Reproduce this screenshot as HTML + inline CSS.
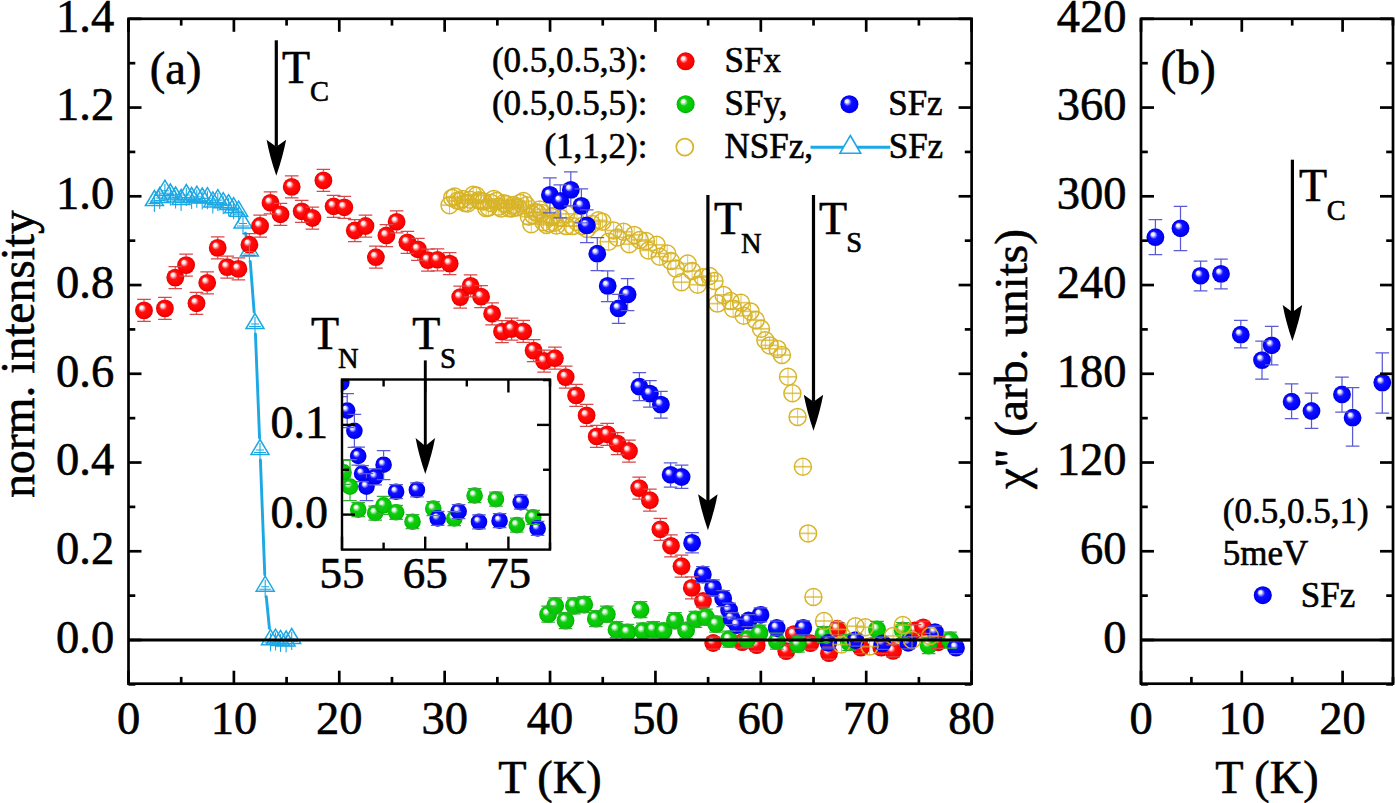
<!DOCTYPE html>
<html><head><meta charset="utf-8"><style>
html,body{margin:0;padding:0;background:#fff;}
svg{display:block;}
text{font-family:"Liberation Serif", serif;stroke:#000;stroke-width:0.6px;}
</style></head><body>
<svg width="1395" height="803" viewBox="0 0 1395 803" font-family='"Liberation Serif", serif' fill="#000">
<defs>
<radialGradient id="gr" cx="0.5" cy="0.5" r="0.5" fx="0.33" fy="0.3">
<stop offset="0" stop-color="#fff4f4"/>
<stop offset="0.16" stop-color="#fff4f4" stop-opacity="1"/>
<stop offset="0.44" stop-color="#ff1010"/>
<stop offset="0.85" stop-color="#ff0000"/>
<stop offset="1" stop-color="#d40000"/>
</radialGradient><radialGradient id="gg" cx="0.5" cy="0.5" r="0.5" fx="0.33" fy="0.3">
<stop offset="0" stop-color="#f4fff4"/>
<stop offset="0.16" stop-color="#f4fff4" stop-opacity="1"/>
<stop offset="0.44" stop-color="#10cc10"/>
<stop offset="0.85" stop-color="#00c800"/>
<stop offset="1" stop-color="#00a800"/>
</radialGradient><radialGradient id="gb" cx="0.5" cy="0.5" r="0.5" fx="0.33" fy="0.3">
<stop offset="0" stop-color="#f4f4ff"/>
<stop offset="0.16" stop-color="#f4f4ff" stop-opacity="1"/>
<stop offset="0.44" stop-color="#1010ff"/>
<stop offset="0.85" stop-color="#0000ff"/>
<stop offset="1" stop-color="#0000c8"/>
</radialGradient>
<clipPath id="clipI"><rect x="342.0" y="379.5" width="208.0" height="170.10000000000002"/></clipPath>
</defs>
<rect width="1395" height="803" fill="#fff"/>
<g>
<line x1="245.45" y1="233.22" x2="246.95" y2="239.78" stroke="#1ca8e4" stroke-width="2.9" stroke-linecap="round"/>
<line x1="250.25" y1="261.47" x2="254.15" y2="312.03" stroke="#1ca8e4" stroke-width="2.9" stroke-linecap="round"/>
<line x1="255.44" y1="333.99" x2="259.56" y2="438.01" stroke="#1ca8e4" stroke-width="2.9" stroke-linecap="round"/>
<line x1="260.42" y1="459.99" x2="264.78" y2="574.71" stroke="#1ca8e4" stroke-width="2.9" stroke-linecap="round"/>
<line x1="266.28" y1="596.65" x2="269.42" y2="628.25" stroke="#1ca8e4" stroke-width="2.9" stroke-linecap="round"/>
<path d="M154.4 190.5L163.4 205.5L145.4 205.5Z" fill="none" stroke="#1ca8e4" stroke-width="1.5" stroke-linejoin="miter"/>
<path d="M159.7 187.5L168.7 202.5L150.7 202.5Z" fill="none" stroke="#1ca8e4" stroke-width="1.5" stroke-linejoin="miter"/>
<path d="M164.9 180.2L173.9 195.2L155.9 195.2Z" fill="none" stroke="#1ca8e4" stroke-width="1.5" stroke-linejoin="miter"/>
<path d="M170.4 184.0L179.4 199.0L161.4 199.0Z" fill="none" stroke="#1ca8e4" stroke-width="1.5" stroke-linejoin="miter"/>
<path d="M175.6 187.0L184.6 202.0L166.6 202.0Z" fill="none" stroke="#1ca8e4" stroke-width="1.5" stroke-linejoin="miter"/>
<path d="M181.1 189.5L190.1 204.5L172.1 204.5Z" fill="none" stroke="#1ca8e4" stroke-width="1.5" stroke-linejoin="miter"/>
<path d="M186.3 184.5L195.3 199.5L177.3 199.5Z" fill="none" stroke="#1ca8e4" stroke-width="1.5" stroke-linejoin="miter"/>
<path d="M191.6 187.5L200.6 202.5L182.6 202.5Z" fill="none" stroke="#1ca8e4" stroke-width="1.5" stroke-linejoin="miter"/>
<path d="M196.8 186.2L205.8 201.2L187.8 201.2Z" fill="none" stroke="#1ca8e4" stroke-width="1.5" stroke-linejoin="miter"/>
<path d="M202.2 188.0L211.2 203.0L193.2 203.0Z" fill="none" stroke="#1ca8e4" stroke-width="1.5" stroke-linejoin="miter"/>
<path d="M207.4 187.7L216.4 202.7L198.4 202.7Z" fill="none" stroke="#1ca8e4" stroke-width="1.5" stroke-linejoin="miter"/>
<path d="M212.8 191.9L221.8 206.9L203.8 206.9Z" fill="none" stroke="#1ca8e4" stroke-width="1.5" stroke-linejoin="miter"/>
<path d="M217.8 189.6L226.8 204.6L208.8 204.6Z" fill="none" stroke="#1ca8e4" stroke-width="1.5" stroke-linejoin="miter"/>
<path d="M223.2 192.7L232.2 207.7L214.2 207.7Z" fill="none" stroke="#1ca8e4" stroke-width="1.5" stroke-linejoin="miter"/>
<path d="M228.6 194.6L237.6 209.6L219.6 209.6Z" fill="none" stroke="#1ca8e4" stroke-width="1.5" stroke-linejoin="miter"/>
<path d="M233.6 197.7L242.6 212.7L224.6 212.7Z" fill="none" stroke="#1ca8e4" stroke-width="1.5" stroke-linejoin="miter"/>
<path d="M238.6 201.2L247.6 216.2L229.6 216.2Z" fill="none" stroke="#1ca8e4" stroke-width="1.5" stroke-linejoin="miter"/>
<path d="M243.0 213.0L252.0 228.0L234.0 228.0Z" fill="none" stroke="#1ca8e4" stroke-width="1.5" stroke-linejoin="miter"/>
<path d="M249.4 241.0L258.4 256.0L240.4 256.0Z" fill="none" stroke="#1ca8e4" stroke-width="1.5" stroke-linejoin="miter"/>
<path d="M255.0 313.5L264.0 328.5L246.0 328.5Z" fill="none" stroke="#1ca8e4" stroke-width="1.5" stroke-linejoin="miter"/>
<path d="M260.0 439.5L269.0 454.5L251.0 454.5Z" fill="none" stroke="#1ca8e4" stroke-width="1.5" stroke-linejoin="miter"/>
<path d="M265.2 576.2L274.2 591.2L256.2 591.2Z" fill="none" stroke="#1ca8e4" stroke-width="1.5" stroke-linejoin="miter"/>
<path d="M270.5 629.7L279.5 644.7L261.5 644.7Z" fill="none" stroke="#1ca8e4" stroke-width="1.5" stroke-linejoin="miter"/>
<path d="M275.5 629.1L284.5 644.1L266.5 644.1Z" fill="none" stroke="#1ca8e4" stroke-width="1.5" stroke-linejoin="miter"/>
<path d="M280.5 630.4L289.5 645.4L271.5 645.4Z" fill="none" stroke="#1ca8e4" stroke-width="1.5" stroke-linejoin="miter"/>
<path d="M286.1 631.0L295.1 646.0L277.1 646.0Z" fill="none" stroke="#1ca8e4" stroke-width="1.5" stroke-linejoin="miter"/>
<path d="M291.7 628.5L300.7 643.5L282.7 643.5Z" fill="none" stroke="#1ca8e4" stroke-width="1.5" stroke-linejoin="miter"/>
<circle cx="144.0" cy="310.4" r="8.9" fill="url(#gr)"/>
<circle cx="164.9" cy="308.4" r="8.9" fill="url(#gr)"/>
<circle cx="175.3" cy="277.6" r="8.9" fill="url(#gr)"/>
<circle cx="186.1" cy="265.1" r="8.9" fill="url(#gr)"/>
<circle cx="196.5" cy="303.3" r="8.9" fill="url(#gr)"/>
<circle cx="207.2" cy="282.8" r="8.9" fill="url(#gr)"/>
<circle cx="217.7" cy="247.9" r="8.9" fill="url(#gr)"/>
<circle cx="227.2" cy="267.1" r="8.9" fill="url(#gr)"/>
<circle cx="238.4" cy="268.9" r="8.9" fill="url(#gr)"/>
<circle cx="249.4" cy="244.7" r="8.9" fill="url(#gr)"/>
<circle cx="260.1" cy="226.0" r="8.9" fill="url(#gr)"/>
<circle cx="270.5" cy="202.8" r="8.9" fill="url(#gr)"/>
<circle cx="280.5" cy="214.3" r="8.9" fill="url(#gr)"/>
<circle cx="291.7" cy="186.9" r="8.9" fill="url(#gr)"/>
<circle cx="301.7" cy="211.3" r="8.9" fill="url(#gr)"/>
<circle cx="312.4" cy="218.0" r="8.9" fill="url(#gr)"/>
<circle cx="323.4" cy="180.4" r="8.9" fill="url(#gr)"/>
<circle cx="333.6" cy="206.3" r="8.9" fill="url(#gr)"/>
<circle cx="344.3" cy="207.3" r="8.9" fill="url(#gr)"/>
<circle cx="354.8" cy="230.5" r="8.9" fill="url(#gr)"/>
<circle cx="365.5" cy="226.0" r="8.9" fill="url(#gr)"/>
<circle cx="375.9" cy="257.2" r="8.9" fill="url(#gr)"/>
<circle cx="386.4" cy="235.5" r="8.9" fill="url(#gr)"/>
<circle cx="396.6" cy="221.8" r="8.9" fill="url(#gr)"/>
<circle cx="407.4" cy="242.3" r="8.9" fill="url(#gr)"/>
<circle cx="417.9" cy="249.3" r="8.9" fill="url(#gr)"/>
<circle cx="427.9" cy="260.1" r="8.9" fill="url(#gr)"/>
<circle cx="437.5" cy="259.8" r="8.9" fill="url(#gr)"/>
<circle cx="449.7" cy="263.6" r="8.9" fill="url(#gr)"/>
<circle cx="460.2" cy="297.1" r="8.9" fill="url(#gr)"/>
<circle cx="470.6" cy="285.9" r="8.9" fill="url(#gr)"/>
<circle cx="481.1" cy="296.7" r="8.9" fill="url(#gr)"/>
<circle cx="492.1" cy="313.8" r="8.9" fill="url(#gr)"/>
<circle cx="502.0" cy="331.6" r="8.9" fill="url(#gr)"/>
<circle cx="511.6" cy="329.0" r="8.9" fill="url(#gr)"/>
<circle cx="523.2" cy="331.4" r="8.9" fill="url(#gr)"/>
<circle cx="533.6" cy="350.6" r="8.9" fill="url(#gr)"/>
<circle cx="544.1" cy="361.0" r="8.9" fill="url(#gr)"/>
<circle cx="554.9" cy="358.2" r="8.9" fill="url(#gr)"/>
<circle cx="565.7" cy="377.1" r="8.9" fill="url(#gr)"/>
<circle cx="576.1" cy="395.4" r="8.9" fill="url(#gr)"/>
<circle cx="586.6" cy="415.4" r="8.9" fill="url(#gr)"/>
<circle cx="596.7" cy="436.4" r="8.9" fill="url(#gr)"/>
<circle cx="607.2" cy="434.3" r="8.9" fill="url(#gr)"/>
<circle cx="617.6" cy="443.7" r="8.9" fill="url(#gr)"/>
<circle cx="629.0" cy="451.0" r="8.9" fill="url(#gr)"/>
<circle cx="639.2" cy="488.1" r="8.9" fill="url(#gr)"/>
<circle cx="649.9" cy="500.2" r="8.9" fill="url(#gr)"/>
<circle cx="660.4" cy="529.3" r="8.9" fill="url(#gr)"/>
<circle cx="671.0" cy="545.8" r="8.9" fill="url(#gr)"/>
<circle cx="681.5" cy="566.2" r="8.9" fill="url(#gr)"/>
<circle cx="691.8" cy="587.9" r="8.9" fill="url(#gr)"/>
<circle cx="703.0" cy="601.0" r="8.9" fill="url(#gr)"/>
<circle cx="713.2" cy="643.0" r="8.9" fill="url(#gr)"/>
<circle cx="742.2" cy="642.2" r="8.9" fill="url(#gr)"/>
<circle cx="756.7" cy="645.2" r="8.9" fill="url(#gr)"/>
<circle cx="786.3" cy="651.2" r="8.9" fill="url(#gr)"/>
<circle cx="793.8" cy="634.1" r="8.9" fill="url(#gr)"/>
<circle cx="810.4" cy="643.2" r="8.9" fill="url(#gr)"/>
<circle cx="829.0" cy="653.2" r="8.9" fill="url(#gr)"/>
<circle cx="837.5" cy="628.7" r="8.9" fill="url(#gr)"/>
<circle cx="860.9" cy="647.7" r="8.9" fill="url(#gr)"/>
<circle cx="881.3" cy="647.7" r="8.9" fill="url(#gr)"/>
<circle cx="893.1" cy="650.9" r="8.9" fill="url(#gr)"/>
<circle cx="914.6" cy="630.5" r="8.9" fill="url(#gr)"/>
<circle cx="923.2" cy="627.3" r="8.9" fill="url(#gr)"/>
<circle cx="938.3" cy="642.3" r="8.9" fill="url(#gr)"/>
<circle cx="548.1" cy="614.2" r="8.9" fill="url(#gg)"/>
<circle cx="555.2" cy="605.8" r="8.9" fill="url(#gg)"/>
<circle cx="565.5" cy="620.6" r="8.9" fill="url(#gg)"/>
<circle cx="573.9" cy="605.8" r="8.9" fill="url(#gg)"/>
<circle cx="584.2" cy="604.5" r="8.9" fill="url(#gg)"/>
<circle cx="595.8" cy="618.7" r="8.9" fill="url(#gg)"/>
<circle cx="606.8" cy="614.2" r="8.9" fill="url(#gg)"/>
<circle cx="616.5" cy="629.7" r="8.9" fill="url(#gg)"/>
<circle cx="627.4" cy="632.3" r="8.9" fill="url(#gg)"/>
<circle cx="640.5" cy="609.7" r="8.9" fill="url(#gg)"/>
<circle cx="642.9" cy="631.0" r="8.9" fill="url(#gg)"/>
<circle cx="653.2" cy="629.7" r="8.9" fill="url(#gg)"/>
<circle cx="663.5" cy="631.0" r="8.9" fill="url(#gg)"/>
<circle cx="675.0" cy="620.6" r="8.9" fill="url(#gg)"/>
<circle cx="686.1" cy="630.3" r="8.9" fill="url(#gg)"/>
<circle cx="695.4" cy="619.4" r="8.9" fill="url(#gg)"/>
<circle cx="706.0" cy="617.2" r="8.9" fill="url(#gg)"/>
<circle cx="716.1" cy="624.1" r="8.9" fill="url(#gg)"/>
<circle cx="729.1" cy="639.2" r="8.9" fill="url(#gg)"/>
<circle cx="747.2" cy="639.2" r="8.9" fill="url(#gg)"/>
<circle cx="759.5" cy="633.1" r="8.9" fill="url(#gg)"/>
<circle cx="776.8" cy="641.2" r="8.9" fill="url(#gg)"/>
<circle cx="797.9" cy="644.2" r="8.9" fill="url(#gg)"/>
<circle cx="823.5" cy="634.5" r="8.9" fill="url(#gg)"/>
<circle cx="849.0" cy="642.3" r="8.9" fill="url(#gg)"/>
<circle cx="877.0" cy="629.4" r="8.9" fill="url(#gg)"/>
<circle cx="902.8" cy="630.5" r="8.9" fill="url(#gg)"/>
<circle cx="928.6" cy="645.5" r="8.9" fill="url(#gg)"/>
<circle cx="950.1" cy="640.2" r="8.9" fill="url(#gg)"/>
<circle cx="449.5" cy="205.2" r="8.5" fill="none" stroke="#d8b428" stroke-width="1.5"/>
<circle cx="452.1" cy="197.9" r="8.5" fill="none" stroke="#d8b428" stroke-width="1.5"/>
<circle cx="454.7" cy="196.6" r="8.5" fill="none" stroke="#d8b428" stroke-width="1.5"/>
<circle cx="457.4" cy="200.8" r="8.5" fill="none" stroke="#d8b428" stroke-width="1.5"/>
<circle cx="460.0" cy="201.0" r="8.5" fill="none" stroke="#d8b428" stroke-width="1.5"/>
<circle cx="462.5" cy="199.0" r="8.5" fill="none" stroke="#d8b428" stroke-width="1.5"/>
<circle cx="465.0" cy="203.0" r="8.5" fill="none" stroke="#d8b428" stroke-width="1.5"/>
<circle cx="467.6" cy="203.4" r="8.5" fill="none" stroke="#d8b428" stroke-width="1.5"/>
<circle cx="470.1" cy="199.8" r="8.5" fill="none" stroke="#d8b428" stroke-width="1.5"/>
<circle cx="473.2" cy="194.7" r="8.5" fill="none" stroke="#d8b428" stroke-width="1.5"/>
<circle cx="476.4" cy="195.5" r="8.5" fill="none" stroke="#d8b428" stroke-width="1.5"/>
<circle cx="478.7" cy="200.2" r="8.5" fill="none" stroke="#d8b428" stroke-width="1.5"/>
<circle cx="481.0" cy="201.0" r="8.5" fill="none" stroke="#d8b428" stroke-width="1.5"/>
<circle cx="483.6" cy="201.6" r="8.5" fill="none" stroke="#d8b428" stroke-width="1.5"/>
<circle cx="486.2" cy="208.1" r="8.5" fill="none" stroke="#d8b428" stroke-width="1.5"/>
<circle cx="488.6" cy="207.6" r="8.5" fill="none" stroke="#d8b428" stroke-width="1.5"/>
<circle cx="491.0" cy="203.0" r="8.5" fill="none" stroke="#d8b428" stroke-width="1.5"/>
<circle cx="493.8" cy="198.9" r="8.5" fill="none" stroke="#d8b428" stroke-width="1.5"/>
<circle cx="496.5" cy="200.9" r="8.5" fill="none" stroke="#d8b428" stroke-width="1.5"/>
<circle cx="498.8" cy="206.7" r="8.5" fill="none" stroke="#d8b428" stroke-width="1.5"/>
<circle cx="501.1" cy="208.4" r="8.5" fill="none" stroke="#d8b428" stroke-width="1.5"/>
<circle cx="503.6" cy="203.2" r="8.5" fill="none" stroke="#d8b428" stroke-width="1.5"/>
<circle cx="506.0" cy="204.0" r="8.5" fill="none" stroke="#d8b428" stroke-width="1.5"/>
<circle cx="509.0" cy="208.2" r="8.5" fill="none" stroke="#d8b428" stroke-width="1.5"/>
<circle cx="512.0" cy="208.4" r="8.5" fill="none" stroke="#d8b428" stroke-width="1.5"/>
<circle cx="513.6" cy="204.9" r="8.5" fill="none" stroke="#d8b428" stroke-width="1.5"/>
<circle cx="515.2" cy="207.4" r="8.5" fill="none" stroke="#d8b428" stroke-width="1.5"/>
<circle cx="517.8" cy="207.2" r="8.5" fill="none" stroke="#d8b428" stroke-width="1.5"/>
<circle cx="520.3" cy="202.9" r="8.5" fill="none" stroke="#d8b428" stroke-width="1.5"/>
<circle cx="523.4" cy="201.1" r="8.5" fill="none" stroke="#d8b428" stroke-width="1.5"/>
<circle cx="526.5" cy="205.2" r="8.5" fill="none" stroke="#d8b428" stroke-width="1.5"/>
<circle cx="528.9" cy="216.7" r="8.5" fill="none" stroke="#d8b428" stroke-width="1.5"/>
<circle cx="531.3" cy="224.2" r="8.5" fill="none" stroke="#d8b428" stroke-width="1.5"/>
<circle cx="533.1" cy="215.1" r="8.5" fill="none" stroke="#d8b428" stroke-width="1.5"/>
<circle cx="535.0" cy="212.0" r="8.5" fill="none" stroke="#d8b428" stroke-width="1.5"/>
<circle cx="537.4" cy="212.7" r="8.5" fill="none" stroke="#d8b428" stroke-width="1.5"/>
<circle cx="539.7" cy="209.4" r="8.5" fill="none" stroke="#d8b428" stroke-width="1.5"/>
<circle cx="541.6" cy="212.9" r="8.5" fill="none" stroke="#d8b428" stroke-width="1.5"/>
<circle cx="543.5" cy="222.3" r="8.5" fill="none" stroke="#d8b428" stroke-width="1.5"/>
<circle cx="546.5" cy="224.9" r="8.5" fill="none" stroke="#d8b428" stroke-width="1.5"/>
<circle cx="549.4" cy="223.5" r="8.5" fill="none" stroke="#d8b428" stroke-width="1.5"/>
<circle cx="551.2" cy="216.8" r="8.5" fill="none" stroke="#d8b428" stroke-width="1.5"/>
<circle cx="553.0" cy="216.0" r="8.5" fill="none" stroke="#d8b428" stroke-width="1.5"/>
<circle cx="554.8" cy="222.8" r="8.5" fill="none" stroke="#d8b428" stroke-width="1.5"/>
<circle cx="556.5" cy="225.5" r="8.5" fill="none" stroke="#d8b428" stroke-width="1.5"/>
<circle cx="561.0" cy="218.0" r="8.5" fill="none" stroke="#d8b428" stroke-width="1.5"/>
<circle cx="566.1" cy="213.9" r="8.5" fill="none" stroke="#d8b428" stroke-width="1.5"/>
<circle cx="566.1" cy="226.1" r="8.5" fill="none" stroke="#d8b428" stroke-width="1.5"/>
<circle cx="572.6" cy="226.1" r="8.5" fill="none" stroke="#d8b428" stroke-width="1.5"/>
<circle cx="577.0" cy="222.0" r="8.5" fill="none" stroke="#d8b428" stroke-width="1.5"/>
<circle cx="582.0" cy="226.0" r="8.5" fill="none" stroke="#d8b428" stroke-width="1.5"/>
<circle cx="587.0" cy="229.0" r="8.5" fill="none" stroke="#d8b428" stroke-width="1.5"/>
<circle cx="592.0" cy="224.0" r="8.5" fill="none" stroke="#d8b428" stroke-width="1.5"/>
<circle cx="598.4" cy="220.3" r="8.5" fill="none" stroke="#d8b428" stroke-width="1.5"/>
<circle cx="602.4" cy="221.8" r="8.5" fill="none" stroke="#d8b428" stroke-width="1.5"/>
<circle cx="608.6" cy="241.7" r="8.5" fill="none" stroke="#d8b428" stroke-width="1.5"/>
<circle cx="613.6" cy="230.5" r="8.5" fill="none" stroke="#d8b428" stroke-width="1.5"/>
<circle cx="617.4" cy="237.4" r="8.5" fill="none" stroke="#d8b428" stroke-width="1.5"/>
<circle cx="623.6" cy="231.8" r="8.5" fill="none" stroke="#d8b428" stroke-width="1.5"/>
<circle cx="629.2" cy="244.2" r="8.5" fill="none" stroke="#d8b428" stroke-width="1.5"/>
<circle cx="634.2" cy="234.9" r="8.5" fill="none" stroke="#d8b428" stroke-width="1.5"/>
<circle cx="639.8" cy="239.9" r="8.5" fill="none" stroke="#d8b428" stroke-width="1.5"/>
<circle cx="646.0" cy="241.1" r="8.5" fill="none" stroke="#d8b428" stroke-width="1.5"/>
<circle cx="648.5" cy="250.4" r="8.5" fill="none" stroke="#d8b428" stroke-width="1.5"/>
<circle cx="656.6" cy="244.8" r="8.5" fill="none" stroke="#d8b428" stroke-width="1.5"/>
<circle cx="659.7" cy="256.7" r="8.5" fill="none" stroke="#d8b428" stroke-width="1.5"/>
<circle cx="667.2" cy="253.5" r="8.5" fill="none" stroke="#d8b428" stroke-width="1.5"/>
<circle cx="670.9" cy="261.0" r="8.5" fill="none" stroke="#d8b428" stroke-width="1.5"/>
<circle cx="675.9" cy="268.5" r="8.5" fill="none" stroke="#d8b428" stroke-width="1.5"/>
<circle cx="681.5" cy="282.2" r="8.5" fill="none" stroke="#d8b428" stroke-width="1.5"/>
<circle cx="687.7" cy="263.5" r="8.5" fill="none" stroke="#d8b428" stroke-width="1.5"/>
<circle cx="692.1" cy="271.0" r="8.5" fill="none" stroke="#d8b428" stroke-width="1.5"/>
<circle cx="697.7" cy="284.7" r="8.5" fill="none" stroke="#d8b428" stroke-width="1.5"/>
<circle cx="702.7" cy="277.2" r="8.5" fill="none" stroke="#d8b428" stroke-width="1.5"/>
<circle cx="709.5" cy="276.0" r="8.5" fill="none" stroke="#d8b428" stroke-width="1.5"/>
<circle cx="714.5" cy="281.0" r="8.5" fill="none" stroke="#d8b428" stroke-width="1.5"/>
<circle cx="717.4" cy="303.6" r="8.5" fill="none" stroke="#d8b428" stroke-width="1.5"/>
<circle cx="723.5" cy="294.9" r="8.5" fill="none" stroke="#d8b428" stroke-width="1.5"/>
<circle cx="730.5" cy="301.0" r="8.5" fill="none" stroke="#d8b428" stroke-width="1.5"/>
<circle cx="733.1" cy="308.8" r="8.5" fill="none" stroke="#d8b428" stroke-width="1.5"/>
<circle cx="741.0" cy="302.7" r="8.5" fill="none" stroke="#d8b428" stroke-width="1.5"/>
<circle cx="743.6" cy="315.8" r="8.5" fill="none" stroke="#d8b428" stroke-width="1.5"/>
<circle cx="750.5" cy="311.4" r="8.5" fill="none" stroke="#d8b428" stroke-width="1.5"/>
<circle cx="755.8" cy="320.1" r="8.5" fill="none" stroke="#d8b428" stroke-width="1.5"/>
<circle cx="761.0" cy="328.8" r="8.5" fill="none" stroke="#d8b428" stroke-width="1.5"/>
<circle cx="765.4" cy="340.2" r="8.5" fill="none" stroke="#d8b428" stroke-width="1.5"/>
<circle cx="769.7" cy="345.4" r="8.5" fill="none" stroke="#d8b428" stroke-width="1.5"/>
<circle cx="777.6" cy="348.9" r="8.5" fill="none" stroke="#d8b428" stroke-width="1.5"/>
<circle cx="781.9" cy="355.0" r="8.5" fill="none" stroke="#d8b428" stroke-width="1.5"/>
<circle cx="788.0" cy="376.8" r="8.5" fill="none" stroke="#d8b428" stroke-width="1.5"/>
<circle cx="792.4" cy="393.3" r="8.5" fill="none" stroke="#d8b428" stroke-width="1.5"/>
<circle cx="797.6" cy="416.9" r="8.5" fill="none" stroke="#d8b428" stroke-width="1.5"/>
<circle cx="802.9" cy="466.7" r="8.5" fill="none" stroke="#d8b428" stroke-width="1.5"/>
<circle cx="808.1" cy="533.4" r="8.5" fill="none" stroke="#d8b428" stroke-width="1.5"/>
<circle cx="813.4" cy="597.0" r="8.5" fill="none" stroke="#d8b428" stroke-width="1.5"/>
<path d="M449.5 197.2V213.2" stroke="#d8b428" stroke-width="1" opacity="0.75"/><path d="M441.5 205.2h16" stroke="#d8b428" stroke-width="1.7" opacity="0.75"/>
<path d="M452.1 189.9V205.9" stroke="#d8b428" stroke-width="1" opacity="0.75"/><path d="M444.1 197.9h16" stroke="#d8b428" stroke-width="1.7" opacity="0.75"/>
<path d="M454.7 188.6V204.6" stroke="#d8b428" stroke-width="1" opacity="0.75"/><path d="M446.7 196.6h16" stroke="#d8b428" stroke-width="1.7" opacity="0.75"/>
<path d="M457.4 192.8V208.8" stroke="#d8b428" stroke-width="1" opacity="0.75"/><path d="M449.4 200.8h16" stroke="#d8b428" stroke-width="1.7" opacity="0.75"/>
<path d="M460.0 193.0V209.0" stroke="#d8b428" stroke-width="1" opacity="0.75"/><path d="M452.0 201.0h16" stroke="#d8b428" stroke-width="1.7" opacity="0.75"/>
<path d="M462.5 191.0V207.0" stroke="#d8b428" stroke-width="1" opacity="0.75"/><path d="M454.5 199.0h16" stroke="#d8b428" stroke-width="1.7" opacity="0.75"/>
<path d="M465.0 195.0V211.0" stroke="#d8b428" stroke-width="1" opacity="0.75"/><path d="M457.0 203.0h16" stroke="#d8b428" stroke-width="1.7" opacity="0.75"/>
<path d="M467.6 195.4V211.4" stroke="#d8b428" stroke-width="1" opacity="0.75"/><path d="M459.6 203.4h16" stroke="#d8b428" stroke-width="1.7" opacity="0.75"/>
<path d="M470.1 191.8V207.8" stroke="#d8b428" stroke-width="1" opacity="0.75"/><path d="M462.1 199.8h16" stroke="#d8b428" stroke-width="1.7" opacity="0.75"/>
<path d="M473.2 186.7V202.7" stroke="#d8b428" stroke-width="1" opacity="0.75"/><path d="M465.2 194.7h16" stroke="#d8b428" stroke-width="1.7" opacity="0.75"/>
<path d="M476.4 187.5V203.5" stroke="#d8b428" stroke-width="1" opacity="0.75"/><path d="M468.4 195.5h16" stroke="#d8b428" stroke-width="1.7" opacity="0.75"/>
<path d="M478.7 192.2V208.2" stroke="#d8b428" stroke-width="1" opacity="0.75"/><path d="M470.7 200.2h16" stroke="#d8b428" stroke-width="1.7" opacity="0.75"/>
<path d="M481.0 193.0V209.0" stroke="#d8b428" stroke-width="1" opacity="0.75"/><path d="M473.0 201.0h16" stroke="#d8b428" stroke-width="1.7" opacity="0.75"/>
<path d="M483.6 193.6V209.6" stroke="#d8b428" stroke-width="1" opacity="0.75"/><path d="M475.6 201.6h16" stroke="#d8b428" stroke-width="1.7" opacity="0.75"/>
<path d="M486.2 200.1V216.1" stroke="#d8b428" stroke-width="1" opacity="0.75"/><path d="M478.2 208.1h16" stroke="#d8b428" stroke-width="1.7" opacity="0.75"/>
<path d="M488.6 199.6V215.6" stroke="#d8b428" stroke-width="1" opacity="0.75"/><path d="M480.6 207.6h16" stroke="#d8b428" stroke-width="1.7" opacity="0.75"/>
<path d="M491.0 195.0V211.0" stroke="#d8b428" stroke-width="1" opacity="0.75"/><path d="M483.0 203.0h16" stroke="#d8b428" stroke-width="1.7" opacity="0.75"/>
<path d="M493.8 190.9V206.9" stroke="#d8b428" stroke-width="1" opacity="0.75"/><path d="M485.8 198.9h16" stroke="#d8b428" stroke-width="1.7" opacity="0.75"/>
<path d="M496.5 192.9V208.9" stroke="#d8b428" stroke-width="1" opacity="0.75"/><path d="M488.5 200.9h16" stroke="#d8b428" stroke-width="1.7" opacity="0.75"/>
<path d="M498.8 198.7V214.7" stroke="#d8b428" stroke-width="1" opacity="0.75"/><path d="M490.8 206.7h16" stroke="#d8b428" stroke-width="1.7" opacity="0.75"/>
<path d="M501.1 200.4V216.4" stroke="#d8b428" stroke-width="1" opacity="0.75"/><path d="M493.1 208.4h16" stroke="#d8b428" stroke-width="1.7" opacity="0.75"/>
<path d="M503.6 195.2V211.2" stroke="#d8b428" stroke-width="1" opacity="0.75"/><path d="M495.6 203.2h16" stroke="#d8b428" stroke-width="1.7" opacity="0.75"/>
<path d="M506.0 196.0V212.0" stroke="#d8b428" stroke-width="1" opacity="0.75"/><path d="M498.0 204.0h16" stroke="#d8b428" stroke-width="1.7" opacity="0.75"/>
<path d="M509.0 200.2V216.2" stroke="#d8b428" stroke-width="1" opacity="0.75"/><path d="M501.0 208.2h16" stroke="#d8b428" stroke-width="1.7" opacity="0.75"/>
<path d="M512.0 200.4V216.4" stroke="#d8b428" stroke-width="1" opacity="0.75"/><path d="M504.0 208.4h16" stroke="#d8b428" stroke-width="1.7" opacity="0.75"/>
<path d="M513.6 196.9V212.9" stroke="#d8b428" stroke-width="1" opacity="0.75"/><path d="M505.6 204.9h16" stroke="#d8b428" stroke-width="1.7" opacity="0.75"/>
<path d="M515.2 199.4V215.4" stroke="#d8b428" stroke-width="1" opacity="0.75"/><path d="M507.2 207.4h16" stroke="#d8b428" stroke-width="1.7" opacity="0.75"/>
<path d="M517.8 199.2V215.2" stroke="#d8b428" stroke-width="1" opacity="0.75"/><path d="M509.8 207.2h16" stroke="#d8b428" stroke-width="1.7" opacity="0.75"/>
<path d="M520.3 194.9V210.9" stroke="#d8b428" stroke-width="1" opacity="0.75"/><path d="M512.3 202.9h16" stroke="#d8b428" stroke-width="1.7" opacity="0.75"/>
<path d="M523.4 193.1V209.1" stroke="#d8b428" stroke-width="1" opacity="0.75"/><path d="M515.4 201.1h16" stroke="#d8b428" stroke-width="1.7" opacity="0.75"/>
<path d="M526.5 197.2V213.2" stroke="#d8b428" stroke-width="1" opacity="0.75"/><path d="M518.5 205.2h16" stroke="#d8b428" stroke-width="1.7" opacity="0.75"/>
<path d="M528.9 208.7V224.7" stroke="#d8b428" stroke-width="1" opacity="0.75"/><path d="M520.9 216.7h16" stroke="#d8b428" stroke-width="1.7" opacity="0.75"/>
<path d="M531.3 216.2V232.2" stroke="#d8b428" stroke-width="1" opacity="0.75"/><path d="M523.3 224.2h16" stroke="#d8b428" stroke-width="1.7" opacity="0.75"/>
<path d="M533.1 207.1V223.1" stroke="#d8b428" stroke-width="1" opacity="0.75"/><path d="M525.1 215.1h16" stroke="#d8b428" stroke-width="1.7" opacity="0.75"/>
<path d="M535.0 204.0V220.0" stroke="#d8b428" stroke-width="1" opacity="0.75"/><path d="M527.0 212.0h16" stroke="#d8b428" stroke-width="1.7" opacity="0.75"/>
<path d="M537.4 204.7V220.7" stroke="#d8b428" stroke-width="1" opacity="0.75"/><path d="M529.4 212.7h16" stroke="#d8b428" stroke-width="1.7" opacity="0.75"/>
<path d="M539.7 201.4V217.4" stroke="#d8b428" stroke-width="1" opacity="0.75"/><path d="M531.7 209.4h16" stroke="#d8b428" stroke-width="1.7" opacity="0.75"/>
<path d="M541.6 204.9V220.9" stroke="#d8b428" stroke-width="1" opacity="0.75"/><path d="M533.6 212.9h16" stroke="#d8b428" stroke-width="1.7" opacity="0.75"/>
<path d="M543.5 214.3V230.3" stroke="#d8b428" stroke-width="1" opacity="0.75"/><path d="M535.5 222.3h16" stroke="#d8b428" stroke-width="1.7" opacity="0.75"/>
<path d="M546.5 216.9V232.9" stroke="#d8b428" stroke-width="1" opacity="0.75"/><path d="M538.5 224.9h16" stroke="#d8b428" stroke-width="1.7" opacity="0.75"/>
<path d="M549.4 215.5V231.5" stroke="#d8b428" stroke-width="1" opacity="0.75"/><path d="M541.4 223.5h16" stroke="#d8b428" stroke-width="1.7" opacity="0.75"/>
<path d="M551.2 208.8V224.8" stroke="#d8b428" stroke-width="1" opacity="0.75"/><path d="M543.2 216.8h16" stroke="#d8b428" stroke-width="1.7" opacity="0.75"/>
<path d="M553.0 208.0V224.0" stroke="#d8b428" stroke-width="1" opacity="0.75"/><path d="M545.0 216.0h16" stroke="#d8b428" stroke-width="1.7" opacity="0.75"/>
<path d="M554.8 214.8V230.8" stroke="#d8b428" stroke-width="1" opacity="0.75"/><path d="M546.8 222.8h16" stroke="#d8b428" stroke-width="1.7" opacity="0.75"/>
<path d="M556.5 217.5V233.5" stroke="#d8b428" stroke-width="1" opacity="0.75"/><path d="M548.5 225.5h16" stroke="#d8b428" stroke-width="1.7" opacity="0.75"/>
<path d="M561.0 210.0V226.0" stroke="#d8b428" stroke-width="1" opacity="0.75"/><path d="M553.0 218.0h16" stroke="#d8b428" stroke-width="1.7" opacity="0.75"/>
<path d="M566.1 205.9V221.9" stroke="#d8b428" stroke-width="1" opacity="0.75"/><path d="M558.1 213.9h16" stroke="#d8b428" stroke-width="1.7" opacity="0.75"/>
<path d="M566.1 218.1V234.1" stroke="#d8b428" stroke-width="1" opacity="0.75"/><path d="M558.1 226.1h16" stroke="#d8b428" stroke-width="1.7" opacity="0.75"/>
<path d="M572.6 218.1V234.1" stroke="#d8b428" stroke-width="1" opacity="0.75"/><path d="M564.6 226.1h16" stroke="#d8b428" stroke-width="1.7" opacity="0.75"/>
<path d="M577.0 214.0V230.0" stroke="#d8b428" stroke-width="1" opacity="0.75"/><path d="M569.0 222.0h16" stroke="#d8b428" stroke-width="1.7" opacity="0.75"/>
<path d="M582.0 218.0V234.0" stroke="#d8b428" stroke-width="1" opacity="0.75"/><path d="M574.0 226.0h16" stroke="#d8b428" stroke-width="1.7" opacity="0.75"/>
<path d="M587.0 221.0V237.0" stroke="#d8b428" stroke-width="1" opacity="0.75"/><path d="M579.0 229.0h16" stroke="#d8b428" stroke-width="1.7" opacity="0.75"/>
<path d="M592.0 216.0V232.0" stroke="#d8b428" stroke-width="1" opacity="0.75"/><path d="M584.0 224.0h16" stroke="#d8b428" stroke-width="1.7" opacity="0.75"/>
<path d="M598.4 212.3V228.3" stroke="#d8b428" stroke-width="1" opacity="0.75"/><path d="M590.4 220.3h16" stroke="#d8b428" stroke-width="1.7" opacity="0.75"/>
<path d="M602.4 213.8V229.8" stroke="#d8b428" stroke-width="1" opacity="0.75"/><path d="M594.4 221.8h16" stroke="#d8b428" stroke-width="1.7" opacity="0.75"/>
<path d="M608.6 233.7V249.7" stroke="#d8b428" stroke-width="1" opacity="0.75"/><path d="M600.6 241.7h16" stroke="#d8b428" stroke-width="1.7" opacity="0.75"/>
<path d="M613.6 222.5V238.5" stroke="#d8b428" stroke-width="1" opacity="0.75"/><path d="M605.6 230.5h16" stroke="#d8b428" stroke-width="1.7" opacity="0.75"/>
<path d="M617.4 229.4V245.4" stroke="#d8b428" stroke-width="1" opacity="0.75"/><path d="M609.4 237.4h16" stroke="#d8b428" stroke-width="1.7" opacity="0.75"/>
<path d="M623.6 223.8V239.8" stroke="#d8b428" stroke-width="1" opacity="0.75"/><path d="M615.6 231.8h16" stroke="#d8b428" stroke-width="1.7" opacity="0.75"/>
<path d="M629.2 236.2V252.2" stroke="#d8b428" stroke-width="1" opacity="0.75"/><path d="M621.2 244.2h16" stroke="#d8b428" stroke-width="1.7" opacity="0.75"/>
<path d="M634.2 226.9V242.9" stroke="#d8b428" stroke-width="1" opacity="0.75"/><path d="M626.2 234.9h16" stroke="#d8b428" stroke-width="1.7" opacity="0.75"/>
<path d="M639.8 231.9V247.9" stroke="#d8b428" stroke-width="1" opacity="0.75"/><path d="M631.8 239.9h16" stroke="#d8b428" stroke-width="1.7" opacity="0.75"/>
<path d="M646.0 233.1V249.1" stroke="#d8b428" stroke-width="1" opacity="0.75"/><path d="M638.0 241.1h16" stroke="#d8b428" stroke-width="1.7" opacity="0.75"/>
<path d="M648.5 242.4V258.4" stroke="#d8b428" stroke-width="1" opacity="0.75"/><path d="M640.5 250.4h16" stroke="#d8b428" stroke-width="1.7" opacity="0.75"/>
<path d="M656.6 236.8V252.8" stroke="#d8b428" stroke-width="1" opacity="0.75"/><path d="M648.6 244.8h16" stroke="#d8b428" stroke-width="1.7" opacity="0.75"/>
<path d="M659.7 248.7V264.7" stroke="#d8b428" stroke-width="1" opacity="0.75"/><path d="M651.7 256.7h16" stroke="#d8b428" stroke-width="1.7" opacity="0.75"/>
<path d="M667.2 245.5V261.5" stroke="#d8b428" stroke-width="1" opacity="0.75"/><path d="M659.2 253.5h16" stroke="#d8b428" stroke-width="1.7" opacity="0.75"/>
<path d="M670.9 253.0V269.0" stroke="#d8b428" stroke-width="1" opacity="0.75"/><path d="M662.9 261.0h16" stroke="#d8b428" stroke-width="1.7" opacity="0.75"/>
<path d="M675.9 260.5V276.5" stroke="#d8b428" stroke-width="1" opacity="0.75"/><path d="M667.9 268.5h16" stroke="#d8b428" stroke-width="1.7" opacity="0.75"/>
<path d="M681.5 274.2V290.2" stroke="#d8b428" stroke-width="1" opacity="0.75"/><path d="M673.5 282.2h16" stroke="#d8b428" stroke-width="1.7" opacity="0.75"/>
<path d="M687.7 255.5V271.5" stroke="#d8b428" stroke-width="1" opacity="0.75"/><path d="M679.7 263.5h16" stroke="#d8b428" stroke-width="1.7" opacity="0.75"/>
<path d="M692.1 263.0V279.0" stroke="#d8b428" stroke-width="1" opacity="0.75"/><path d="M684.1 271.0h16" stroke="#d8b428" stroke-width="1.7" opacity="0.75"/>
<path d="M697.7 276.7V292.7" stroke="#d8b428" stroke-width="1" opacity="0.75"/><path d="M689.7 284.7h16" stroke="#d8b428" stroke-width="1.7" opacity="0.75"/>
<path d="M702.7 269.2V285.2" stroke="#d8b428" stroke-width="1" opacity="0.75"/><path d="M694.7 277.2h16" stroke="#d8b428" stroke-width="1.7" opacity="0.75"/>
<path d="M709.5 268.0V284.0" stroke="#d8b428" stroke-width="1" opacity="0.75"/><path d="M701.5 276.0h16" stroke="#d8b428" stroke-width="1.7" opacity="0.75"/>
<path d="M714.5 273.0V289.0" stroke="#d8b428" stroke-width="1" opacity="0.75"/><path d="M706.5 281.0h16" stroke="#d8b428" stroke-width="1.7" opacity="0.75"/>
<path d="M717.4 295.6V311.6" stroke="#d8b428" stroke-width="1" opacity="0.75"/><path d="M709.4 303.6h16" stroke="#d8b428" stroke-width="1.7" opacity="0.75"/>
<path d="M723.5 286.9V302.9" stroke="#d8b428" stroke-width="1" opacity="0.75"/><path d="M715.5 294.9h16" stroke="#d8b428" stroke-width="1.7" opacity="0.75"/>
<path d="M730.5 293.0V309.0" stroke="#d8b428" stroke-width="1" opacity="0.75"/><path d="M722.5 301.0h16" stroke="#d8b428" stroke-width="1.7" opacity="0.75"/>
<path d="M733.1 300.8V316.8" stroke="#d8b428" stroke-width="1" opacity="0.75"/><path d="M725.1 308.8h16" stroke="#d8b428" stroke-width="1.7" opacity="0.75"/>
<path d="M741.0 294.7V310.7" stroke="#d8b428" stroke-width="1" opacity="0.75"/><path d="M733.0 302.7h16" stroke="#d8b428" stroke-width="1.7" opacity="0.75"/>
<path d="M743.6 307.8V323.8" stroke="#d8b428" stroke-width="1" opacity="0.75"/><path d="M735.6 315.8h16" stroke="#d8b428" stroke-width="1.7" opacity="0.75"/>
<path d="M750.5 303.4V319.4" stroke="#d8b428" stroke-width="1" opacity="0.75"/><path d="M742.5 311.4h16" stroke="#d8b428" stroke-width="1.7" opacity="0.75"/>
<path d="M755.8 312.1V328.1" stroke="#d8b428" stroke-width="1" opacity="0.75"/><path d="M747.8 320.1h16" stroke="#d8b428" stroke-width="1.7" opacity="0.75"/>
<path d="M761.0 320.8V336.8" stroke="#d8b428" stroke-width="1" opacity="0.75"/><path d="M753.0 328.8h16" stroke="#d8b428" stroke-width="1.7" opacity="0.75"/>
<path d="M765.4 332.2V348.2" stroke="#d8b428" stroke-width="1" opacity="0.75"/><path d="M757.4 340.2h16" stroke="#d8b428" stroke-width="1.7" opacity="0.75"/>
<path d="M769.7 337.4V353.4" stroke="#d8b428" stroke-width="1" opacity="0.75"/><path d="M761.7 345.4h16" stroke="#d8b428" stroke-width="1.7" opacity="0.75"/>
<path d="M777.6 340.9V356.9" stroke="#d8b428" stroke-width="1" opacity="0.75"/><path d="M769.6 348.9h16" stroke="#d8b428" stroke-width="1.7" opacity="0.75"/>
<path d="M781.9 347.0V363.0" stroke="#d8b428" stroke-width="1" opacity="0.75"/><path d="M773.9 355.0h16" stroke="#d8b428" stroke-width="1.7" opacity="0.75"/>
<path d="M788.0 368.8V384.8" stroke="#d8b428" stroke-width="1" opacity="0.75"/><path d="M780.0 376.8h16" stroke="#d8b428" stroke-width="1.7" opacity="0.75"/>
<path d="M792.4 385.3V401.3" stroke="#d8b428" stroke-width="1" opacity="0.75"/><path d="M784.4 393.3h16" stroke="#d8b428" stroke-width="1.7" opacity="0.75"/>
<path d="M797.6 408.9V424.9" stroke="#d8b428" stroke-width="1" opacity="0.75"/><path d="M789.6 416.9h16" stroke="#d8b428" stroke-width="1.7" opacity="0.75"/>
<path d="M802.9 458.7V474.7" stroke="#d8b428" stroke-width="1" opacity="0.75"/><path d="M794.9 466.7h16" stroke="#d8b428" stroke-width="1.7" opacity="0.75"/>
<path d="M808.1 525.4V541.4" stroke="#d8b428" stroke-width="1" opacity="0.75"/><path d="M800.1 533.4h16" stroke="#d8b428" stroke-width="1.7" opacity="0.75"/>
<path d="M813.4 589.0V605.0" stroke="#d8b428" stroke-width="1" opacity="0.75"/><path d="M805.4 597.0h16" stroke="#d8b428" stroke-width="1.7" opacity="0.75"/>
<circle cx="549.9" cy="194.9" r="8.9" fill="url(#gb)"/>
<circle cx="560.3" cy="200.9" r="8.9" fill="url(#gb)"/>
<circle cx="570.8" cy="189.9" r="8.9" fill="url(#gb)"/>
<circle cx="581.4" cy="205.9" r="8.9" fill="url(#gb)"/>
<circle cx="586.8" cy="225.4" r="8.9" fill="url(#gb)"/>
<circle cx="597.3" cy="253.7" r="8.9" fill="url(#gb)"/>
<circle cx="607.7" cy="285.9" r="8.9" fill="url(#gb)"/>
<circle cx="618.6" cy="308.4" r="8.9" fill="url(#gb)"/>
<circle cx="627.6" cy="294.5" r="8.9" fill="url(#gb)"/>
<circle cx="639.4" cy="386.7" r="8.9" fill="url(#gb)"/>
<circle cx="649.9" cy="393.6" r="8.9" fill="url(#gb)"/>
<circle cx="660.9" cy="404.6" r="8.9" fill="url(#gb)"/>
<circle cx="670.6" cy="474.8" r="8.9" fill="url(#gb)"/>
<circle cx="681.6" cy="477.0" r="8.9" fill="url(#gb)"/>
<circle cx="692.1" cy="542.9" r="8.9" fill="url(#gb)"/>
<circle cx="702.8" cy="574.5" r="8.9" fill="url(#gb)"/>
<circle cx="713.0" cy="587.9" r="8.9" fill="url(#gb)"/>
<circle cx="723.2" cy="598.5" r="8.9" fill="url(#gb)"/>
<circle cx="729.1" cy="610.0" r="8.9" fill="url(#gb)"/>
<circle cx="731.6" cy="618.6" r="8.9" fill="url(#gb)"/>
<circle cx="737.1" cy="625.0" r="8.9" fill="url(#gb)"/>
<circle cx="748.5" cy="620.5" r="8.9" fill="url(#gb)"/>
<circle cx="760.5" cy="614.8" r="8.9" fill="url(#gb)"/>
<circle cx="776.7" cy="628.0" r="8.9" fill="url(#gb)"/>
<circle cx="803.3" cy="627.8" r="8.9" fill="url(#gb)"/>
<circle cx="828.3" cy="642.8" r="8.9" fill="url(#gb)"/>
<circle cx="855.5" cy="640.2" r="8.9" fill="url(#gb)"/>
<circle cx="882.4" cy="643.4" r="8.9" fill="url(#gb)"/>
<circle cx="908.2" cy="642.8" r="8.9" fill="url(#gb)"/>
<circle cx="935.0" cy="632.1" r="8.9" fill="url(#gb)"/>
<circle cx="956.0" cy="647.7" r="8.9" fill="url(#gb)"/>
<circle cx="824.0" cy="621.0" r="8.5" fill="none" stroke="#d8b428" stroke-width="1.5"/>
<circle cx="838.3" cy="629.4" r="8.5" fill="none" stroke="#d8b428" stroke-width="1.5"/>
<circle cx="841.5" cy="644.5" r="8.5" fill="none" stroke="#d8b428" stroke-width="1.5"/>
<circle cx="855.5" cy="626.2" r="8.5" fill="none" stroke="#d8b428" stroke-width="1.5"/>
<circle cx="865.2" cy="627.3" r="8.5" fill="none" stroke="#d8b428" stroke-width="1.5"/>
<circle cx="869.5" cy="646.6" r="8.5" fill="none" stroke="#d8b428" stroke-width="1.5"/>
<circle cx="893.1" cy="635.9" r="8.5" fill="none" stroke="#d8b428" stroke-width="1.5"/>
<circle cx="902.8" cy="625.1" r="8.5" fill="none" stroke="#d8b428" stroke-width="1.5"/>
<circle cx="912.0" cy="640.0" r="8.5" fill="none" stroke="#d8b428" stroke-width="1.5"/>
<circle cx="930.0" cy="636.0" r="8.5" fill="none" stroke="#d8b428" stroke-width="1.5"/>
<path d="M144.0 301.5V299.4M144.0 319.3V321.4M137.2 299.4h13.6M137.2 321.4h13.6" stroke="#d84848" stroke-width="1.25" fill="none"/>
<path d="M164.9 299.5V297.4M164.9 317.3V319.4M158.1 297.4h13.6M158.1 319.4h13.6" stroke="#d84848" stroke-width="1.25" fill="none"/>
<path d="M175.3 268.7V266.6M175.3 286.5V288.6M168.5 266.6h13.6M168.5 288.6h13.6" stroke="#d84848" stroke-width="1.25" fill="none"/>
<path d="M186.1 256.2V254.1M186.1 274.0V276.1M179.3 254.1h13.6M179.3 276.1h13.6" stroke="#d84848" stroke-width="1.25" fill="none"/>
<path d="M196.5 294.4V292.3M196.5 312.2V314.3M189.7 292.3h13.6M189.7 314.3h13.6" stroke="#d84848" stroke-width="1.25" fill="none"/>
<path d="M207.2 273.9V271.8M207.2 291.7V293.8M200.4 271.8h13.6M200.4 293.8h13.6" stroke="#d84848" stroke-width="1.25" fill="none"/>
<path d="M217.7 239.0V236.9M217.7 256.8V258.9M210.9 236.9h13.6M210.9 258.9h13.6" stroke="#d84848" stroke-width="1.25" fill="none"/>
<path d="M227.2 258.2V256.1M227.2 276.0V278.1M220.4 256.1h13.6M220.4 278.1h13.6" stroke="#d84848" stroke-width="1.25" fill="none"/>
<path d="M238.4 260.0V257.9M238.4 277.8V279.9M231.6 257.9h13.6M231.6 279.9h13.6" stroke="#d84848" stroke-width="1.25" fill="none"/>
<path d="M249.4 235.8V233.7M249.4 253.6V255.7M242.6 233.7h13.6M242.6 255.7h13.6" stroke="#d84848" stroke-width="1.25" fill="none"/>
<path d="M260.1 217.1V215.0M260.1 234.9V237.0M253.3 215.0h13.6M253.3 237.0h13.6" stroke="#d84848" stroke-width="1.25" fill="none"/>
<path d="M270.5 193.9V191.8M270.5 211.7V213.8M263.7 191.8h13.6M263.7 213.8h13.6" stroke="#d84848" stroke-width="1.25" fill="none"/>
<path d="M280.5 205.4V203.3M280.5 223.2V225.3M273.7 203.3h13.6M273.7 225.3h13.6" stroke="#d84848" stroke-width="1.25" fill="none"/>
<path d="M291.7 178.0V175.9M291.7 195.8V197.9M284.9 175.9h13.6M284.9 197.9h13.6" stroke="#d84848" stroke-width="1.25" fill="none"/>
<path d="M301.7 202.4V200.3M301.7 220.2V222.3M294.9 200.3h13.6M294.9 222.3h13.6" stroke="#d84848" stroke-width="1.25" fill="none"/>
<path d="M312.4 209.1V207.0M312.4 226.9V229.0M305.6 207.0h13.6M305.6 229.0h13.6" stroke="#d84848" stroke-width="1.25" fill="none"/>
<path d="M323.4 171.5V169.4M323.4 189.3V191.4M316.6 169.4h13.6M316.6 191.4h13.6" stroke="#d84848" stroke-width="1.25" fill="none"/>
<path d="M333.6 197.4V195.3M333.6 215.2V217.3M326.8 195.3h13.6M326.8 217.3h13.6" stroke="#d84848" stroke-width="1.25" fill="none"/>
<path d="M344.3 198.4V196.3M344.3 216.2V218.3M337.5 196.3h13.6M337.5 218.3h13.6" stroke="#d84848" stroke-width="1.25" fill="none"/>
<path d="M354.8 221.6V219.5M354.8 239.4V241.5M348.0 219.5h13.6M348.0 241.5h13.6" stroke="#d84848" stroke-width="1.25" fill="none"/>
<path d="M365.5 217.1V215.0M365.5 234.9V237.0M358.7 215.0h13.6M358.7 237.0h13.6" stroke="#d84848" stroke-width="1.25" fill="none"/>
<path d="M375.9 248.3V246.2M375.9 266.1V268.2M369.1 246.2h13.6M369.1 268.2h13.6" stroke="#d84848" stroke-width="1.25" fill="none"/>
<path d="M386.4 226.6V224.5M386.4 244.4V246.5M379.6 224.5h13.6M379.6 246.5h13.6" stroke="#d84848" stroke-width="1.25" fill="none"/>
<path d="M396.6 212.9V210.8M396.6 230.7V232.8M389.8 210.8h13.6M389.8 232.8h13.6" stroke="#d84848" stroke-width="1.25" fill="none"/>
<path d="M407.4 233.4V231.3M407.4 251.2V253.3M400.6 231.3h13.6M400.6 253.3h13.6" stroke="#d84848" stroke-width="1.25" fill="none"/>
<path d="M417.9 240.4V238.3M417.9 258.2V260.3M411.1 238.3h13.6M411.1 260.3h13.6" stroke="#d84848" stroke-width="1.25" fill="none"/>
<path d="M427.9 251.2V249.1M427.9 269.0V271.1M421.1 249.1h13.6M421.1 271.1h13.6" stroke="#d84848" stroke-width="1.25" fill="none"/>
<path d="M437.5 250.9V248.8M437.5 268.7V270.8M430.7 248.8h13.6M430.7 270.8h13.6" stroke="#d84848" stroke-width="1.25" fill="none"/>
<path d="M449.7 254.7V252.6M449.7 272.5V274.6M442.9 252.6h13.6M442.9 274.6h13.6" stroke="#d84848" stroke-width="1.25" fill="none"/>
<path d="M460.2 288.2V286.1M460.2 306.0V308.1M453.4 286.1h13.6M453.4 308.1h13.6" stroke="#d84848" stroke-width="1.25" fill="none"/>
<path d="M470.6 277.0V274.9M470.6 294.8V296.9M463.8 274.9h13.6M463.8 296.9h13.6" stroke="#d84848" stroke-width="1.25" fill="none"/>
<path d="M481.1 287.8V285.7M481.1 305.6V307.7M474.3 285.7h13.6M474.3 307.7h13.6" stroke="#d84848" stroke-width="1.25" fill="none"/>
<path d="M492.1 304.9V302.8M492.1 322.7V324.8M485.3 302.8h13.6M485.3 324.8h13.6" stroke="#d84848" stroke-width="1.25" fill="none"/>
<path d="M502.0 322.7V320.6M502.0 340.5V342.6M495.2 320.6h13.6M495.2 342.6h13.6" stroke="#d84848" stroke-width="1.25" fill="none"/>
<path d="M511.6 320.1V318.0M511.6 337.9V340.0M504.8 318.0h13.6M504.8 340.0h13.6" stroke="#d84848" stroke-width="1.25" fill="none"/>
<path d="M523.2 322.5V320.4M523.2 340.3V342.4M516.4 320.4h13.6M516.4 342.4h13.6" stroke="#d84848" stroke-width="1.25" fill="none"/>
<path d="M533.6 341.7V339.6M533.6 359.5V361.6M526.8 339.6h13.6M526.8 361.6h13.6" stroke="#d84848" stroke-width="1.25" fill="none"/>
<path d="M544.1 352.1V350.0M544.1 369.9V372.0M537.3 350.0h13.6M537.3 372.0h13.6" stroke="#d84848" stroke-width="1.25" fill="none"/>
<path d="M554.9 349.3V347.2M554.9 367.1V369.2M548.1 347.2h13.6M548.1 369.2h13.6" stroke="#d84848" stroke-width="1.25" fill="none"/>
<path d="M565.7 368.2V366.1M565.7 386.0V388.1M558.9 366.1h13.6M558.9 388.1h13.6" stroke="#d84848" stroke-width="1.25" fill="none"/>
<path d="M576.1 386.5V384.4M576.1 404.3V406.4M569.3 384.4h13.6M569.3 406.4h13.6" stroke="#d84848" stroke-width="1.25" fill="none"/>
<path d="M586.6 406.5V404.4M586.6 424.3V426.4M579.8 404.4h13.6M579.8 426.4h13.6" stroke="#d84848" stroke-width="1.25" fill="none"/>
<path d="M596.7 427.5V425.4M596.7 445.3V447.4M589.9 425.4h13.6M589.9 447.4h13.6" stroke="#d84848" stroke-width="1.25" fill="none"/>
<path d="M607.2 425.4V423.3M607.2 443.2V445.3M600.4 423.3h13.6M600.4 445.3h13.6" stroke="#d84848" stroke-width="1.25" fill="none"/>
<path d="M617.6 434.8V432.7M617.6 452.6V454.7M610.8 432.7h13.6M610.8 454.7h13.6" stroke="#d84848" stroke-width="1.25" fill="none"/>
<path d="M629.0 442.1V440.0M629.0 459.9V462.0M622.2 440.0h13.6M622.2 462.0h13.6" stroke="#d84848" stroke-width="1.25" fill="none"/>
<path d="M639.2 479.2V477.1M639.2 497.0V499.1M632.4 477.1h13.6M632.4 499.1h13.6" stroke="#d84848" stroke-width="1.25" fill="none"/>
<path d="M649.9 491.3V489.2M649.9 509.1V511.2M643.1 489.2h13.6M643.1 511.2h13.6" stroke="#d84848" stroke-width="1.25" fill="none"/>
<path d="M660.4 520.4V518.3M660.4 538.2V540.3M653.6 518.3h13.6M653.6 540.3h13.6" stroke="#d84848" stroke-width="1.25" fill="none"/>
<path d="M671.0 536.9V534.8M671.0 554.7V556.8M664.2 534.8h13.6M664.2 556.8h13.6" stroke="#d84848" stroke-width="1.25" fill="none"/>
<path d="M681.5 557.3V555.2M681.5 575.1V577.2M674.7 555.2h13.6M674.7 577.2h13.6" stroke="#d84848" stroke-width="1.25" fill="none"/>
<path d="M691.8 579.0V576.9M691.8 596.8V598.9M685.0 576.9h13.6M685.0 598.9h13.6" stroke="#d84848" stroke-width="1.25" fill="none"/>
<path d="M696.2 595.0h13.6M696.2 607.0h13.6" stroke="#d84848" stroke-width="1.25" fill="none"/>
<path d="M706.4 637.0h13.6M706.4 649.0h13.6" stroke="#d84848" stroke-width="1.25" fill="none"/>
<path d="M735.4 636.2h13.6M735.4 648.2h13.6" stroke="#d84848" stroke-width="1.25" fill="none"/>
<path d="M749.9 639.2h13.6M749.9 651.2h13.6" stroke="#d84848" stroke-width="1.25" fill="none"/>
<path d="M779.5 645.2h13.6M779.5 657.2h13.6" stroke="#d84848" stroke-width="1.25" fill="none"/>
<path d="M787.0 628.1h13.6M787.0 640.1h13.6" stroke="#d84848" stroke-width="1.25" fill="none"/>
<path d="M803.6 637.2h13.6M803.6 649.2h13.6" stroke="#d84848" stroke-width="1.25" fill="none"/>
<path d="M822.2 647.2h13.6M822.2 659.2h13.6" stroke="#d84848" stroke-width="1.25" fill="none"/>
<path d="M830.7 622.7h13.6M830.7 634.7h13.6" stroke="#d84848" stroke-width="1.25" fill="none"/>
<path d="M854.1 641.7h13.6M854.1 653.7h13.6" stroke="#d84848" stroke-width="1.25" fill="none"/>
<path d="M874.5 641.7h13.6M874.5 653.7h13.6" stroke="#d84848" stroke-width="1.25" fill="none"/>
<path d="M886.3 644.9h13.6M886.3 656.9h13.6" stroke="#d84848" stroke-width="1.25" fill="none"/>
<path d="M907.8 624.5h13.6M907.8 636.5h13.6" stroke="#d84848" stroke-width="1.25" fill="none"/>
<path d="M916.4 621.3h13.6M916.4 633.3h13.6" stroke="#d84848" stroke-width="1.25" fill="none"/>
<path d="M931.5 636.3h13.6M931.5 648.3h13.6" stroke="#d84848" stroke-width="1.25" fill="none"/>
<path d="M541.3 606.2h13.6M541.3 622.2h13.6" stroke="#30b030" stroke-width="1.25" fill="none"/>
<path d="M548.4 597.8h13.6M548.4 613.8h13.6" stroke="#30b030" stroke-width="1.25" fill="none"/>
<path d="M558.7 612.6h13.6M558.7 628.6h13.6" stroke="#30b030" stroke-width="1.25" fill="none"/>
<path d="M567.1 597.8h13.6M567.1 613.8h13.6" stroke="#30b030" stroke-width="1.25" fill="none"/>
<path d="M577.4 596.5h13.6M577.4 612.5h13.6" stroke="#30b030" stroke-width="1.25" fill="none"/>
<path d="M589.0 610.7h13.6M589.0 626.7h13.6" stroke="#30b030" stroke-width="1.25" fill="none"/>
<path d="M600.0 606.2h13.6M600.0 622.2h13.6" stroke="#30b030" stroke-width="1.25" fill="none"/>
<path d="M609.7 621.7h13.6M609.7 637.7h13.6" stroke="#30b030" stroke-width="1.25" fill="none"/>
<path d="M620.6 624.3h13.6M620.6 640.3h13.6" stroke="#30b030" stroke-width="1.25" fill="none"/>
<path d="M633.7 601.7h13.6M633.7 617.7h13.6" stroke="#30b030" stroke-width="1.25" fill="none"/>
<path d="M636.1 623.0h13.6M636.1 639.0h13.6" stroke="#30b030" stroke-width="1.25" fill="none"/>
<path d="M646.4 621.7h13.6M646.4 637.7h13.6" stroke="#30b030" stroke-width="1.25" fill="none"/>
<path d="M656.7 623.0h13.6M656.7 639.0h13.6" stroke="#30b030" stroke-width="1.25" fill="none"/>
<path d="M668.2 612.6h13.6M668.2 628.6h13.6" stroke="#30b030" stroke-width="1.25" fill="none"/>
<path d="M679.3 622.3h13.6M679.3 638.3h13.6" stroke="#30b030" stroke-width="1.25" fill="none"/>
<path d="M688.6 611.4h13.6M688.6 627.4h13.6" stroke="#30b030" stroke-width="1.25" fill="none"/>
<path d="M699.2 609.2h13.6M699.2 625.2h13.6" stroke="#30b030" stroke-width="1.25" fill="none"/>
<path d="M709.3 616.1h13.6M709.3 632.1h13.6" stroke="#30b030" stroke-width="1.25" fill="none"/>
<path d="M722.3 631.2h13.6M722.3 647.2h13.6" stroke="#30b030" stroke-width="1.25" fill="none"/>
<path d="M740.4 631.2h13.6M740.4 647.2h13.6" stroke="#30b030" stroke-width="1.25" fill="none"/>
<path d="M752.7 625.1h13.6M752.7 641.1h13.6" stroke="#30b030" stroke-width="1.25" fill="none"/>
<path d="M770.0 633.2h13.6M770.0 649.2h13.6" stroke="#30b030" stroke-width="1.25" fill="none"/>
<path d="M791.1 636.2h13.6M791.1 652.2h13.6" stroke="#30b030" stroke-width="1.25" fill="none"/>
<path d="M816.7 626.5h13.6M816.7 642.5h13.6" stroke="#30b030" stroke-width="1.25" fill="none"/>
<path d="M842.2 634.3h13.6M842.2 650.3h13.6" stroke="#30b030" stroke-width="1.25" fill="none"/>
<path d="M870.2 621.4h13.6M870.2 637.4h13.6" stroke="#30b030" stroke-width="1.25" fill="none"/>
<path d="M896.0 622.5h13.6M896.0 638.5h13.6" stroke="#30b030" stroke-width="1.25" fill="none"/>
<path d="M921.8 637.5h13.6M921.8 653.5h13.6" stroke="#30b030" stroke-width="1.25" fill="none"/>
<path d="M943.3 632.2h13.6M943.3 648.2h13.6" stroke="#30b030" stroke-width="1.25" fill="none"/>
<path d="M549.9 186.0V177.9M549.9 203.8V212.9M543.1 177.9h13.6M543.1 212.9h13.6" stroke="#5a5ad6" stroke-width="1.25" fill="none"/>
<path d="M560.3 192.0V184.9M560.3 209.8V217.9M553.5 184.9h13.6M553.5 217.9h13.6" stroke="#5a5ad6" stroke-width="1.25" fill="none"/>
<path d="M570.8 181.0V171.9M570.8 198.8V205.9M564.0 171.9h13.6M564.0 205.9h13.6" stroke="#5a5ad6" stroke-width="1.25" fill="none"/>
<path d="M581.4 197.0V188.9M581.4 214.8V222.9M574.6 188.9h13.6M574.6 222.9h13.6" stroke="#5a5ad6" stroke-width="1.25" fill="none"/>
<path d="M586.8 216.5V209.8M586.8 234.3V242.7M580.0 209.8h13.6M580.0 242.7h13.6" stroke="#5a5ad6" stroke-width="1.25" fill="none"/>
<path d="M597.3 244.8V237.7M597.3 262.6V270.7M590.5 237.7h13.6M590.5 270.7h13.6" stroke="#5a5ad6" stroke-width="1.25" fill="none"/>
<path d="M607.7 277.0V270.9M607.7 294.8V301.5M600.9 270.9h13.6M600.9 301.5h13.6" stroke="#5a5ad6" stroke-width="1.25" fill="none"/>
<path d="M618.6 299.5V294.4M618.6 317.3V323.4M611.8 294.4h13.6M611.8 323.4h13.6" stroke="#5a5ad6" stroke-width="1.25" fill="none"/>
<path d="M627.6 285.6V278.5M627.6 303.4V310.5M620.8 278.5h13.6M620.8 310.5h13.6" stroke="#5a5ad6" stroke-width="1.25" fill="none"/>
<path d="M639.4 377.8V372.7M639.4 395.6V400.7M632.6 372.7h13.6M632.6 400.7h13.6" stroke="#5a5ad6" stroke-width="1.25" fill="none"/>
<path d="M649.9 384.7V380.6M649.9 402.5V407.2M643.1 380.6h13.6M643.1 407.2h13.6" stroke="#5a5ad6" stroke-width="1.25" fill="none"/>
<path d="M660.9 395.7V391.4M660.9 413.5V418.1M654.1 391.4h13.6M654.1 418.1h13.6" stroke="#5a5ad6" stroke-width="1.25" fill="none"/>
<path d="M670.6 465.9V462.8M670.6 483.7V487.2M663.8 462.8h13.6M663.8 487.2h13.6" stroke="#5a5ad6" stroke-width="1.25" fill="none"/>
<path d="M681.6 468.1V465.2M681.6 485.9V488.4M674.8 465.2h13.6M674.8 488.4h13.6" stroke="#5a5ad6" stroke-width="1.25" fill="none"/>
<path d="M692.1 534.0V532.7M692.1 551.8V552.8M685.3 532.7h13.6M685.3 552.8h13.6" stroke="#5a5ad6" stroke-width="1.25" fill="none"/>
<path d="M696.0 566.5h13.6M696.0 582.5h13.6" stroke="#5a5ad6" stroke-width="1.25" fill="none"/>
<path d="M706.2 579.9h13.6M706.2 595.9h13.6" stroke="#5a5ad6" stroke-width="1.25" fill="none"/>
<path d="M716.4 590.5h13.6M716.4 606.5h13.6" stroke="#5a5ad6" stroke-width="1.25" fill="none"/>
<path d="M722.3 603.0h13.6M722.3 617.0h13.6" stroke="#5a5ad6" stroke-width="1.25" fill="none"/>
<path d="M724.8 612.6h13.6M724.8 624.6h13.6" stroke="#5a5ad6" stroke-width="1.25" fill="none"/>
<path d="M730.3 619.0h13.6M730.3 631.0h13.6" stroke="#5a5ad6" stroke-width="1.25" fill="none"/>
<path d="M741.7 614.5h13.6M741.7 626.5h13.6" stroke="#5a5ad6" stroke-width="1.25" fill="none"/>
<path d="M753.7 607.8h13.6M753.7 621.8h13.6" stroke="#5a5ad6" stroke-width="1.25" fill="none"/>
<path d="M769.9 621.0h13.6M769.9 635.0h13.6" stroke="#5a5ad6" stroke-width="1.25" fill="none"/>
<path d="M796.5 620.8h13.6M796.5 634.8h13.6" stroke="#5a5ad6" stroke-width="1.25" fill="none"/>
<path d="M821.5 636.8h13.6M821.5 648.8h13.6" stroke="#5a5ad6" stroke-width="1.25" fill="none"/>
<path d="M848.7 634.2h13.6M848.7 646.2h13.6" stroke="#5a5ad6" stroke-width="1.25" fill="none"/>
<path d="M875.6 637.4h13.6M875.6 649.4h13.6" stroke="#5a5ad6" stroke-width="1.25" fill="none"/>
<path d="M901.4 636.8h13.6M901.4 648.8h13.6" stroke="#5a5ad6" stroke-width="1.25" fill="none"/>
<path d="M928.2 626.1h13.6M928.2 638.1h13.6" stroke="#5a5ad6" stroke-width="1.25" fill="none"/>
<path d="M949.2 641.7h13.6M949.2 653.7h13.6" stroke="#5a5ad6" stroke-width="1.25" fill="none"/>
<path d="M824.0 613.0V629.0" stroke="#d8b428" stroke-width="1" opacity="0.75"/><path d="M816.0 621.0h16" stroke="#d8b428" stroke-width="1.7" opacity="0.75"/>
<path d="M838.3 621.4V637.4" stroke="#d8b428" stroke-width="1" opacity="0.75"/><path d="M830.3 629.4h16" stroke="#d8b428" stroke-width="1.7" opacity="0.75"/>
<path d="M841.5 636.5V652.5" stroke="#d8b428" stroke-width="1" opacity="0.75"/><path d="M833.5 644.5h16" stroke="#d8b428" stroke-width="1.7" opacity="0.75"/>
<path d="M855.5 618.2V634.2" stroke="#d8b428" stroke-width="1" opacity="0.75"/><path d="M847.5 626.2h16" stroke="#d8b428" stroke-width="1.7" opacity="0.75"/>
<path d="M865.2 619.3V635.3" stroke="#d8b428" stroke-width="1" opacity="0.75"/><path d="M857.2 627.3h16" stroke="#d8b428" stroke-width="1.7" opacity="0.75"/>
<path d="M869.5 638.6V654.6" stroke="#d8b428" stroke-width="1" opacity="0.75"/><path d="M861.5 646.6h16" stroke="#d8b428" stroke-width="1.7" opacity="0.75"/>
<path d="M893.1 627.9V643.9" stroke="#d8b428" stroke-width="1" opacity="0.75"/><path d="M885.1 635.9h16" stroke="#d8b428" stroke-width="1.7" opacity="0.75"/>
<path d="M902.8 617.1V633.1" stroke="#d8b428" stroke-width="1" opacity="0.75"/><path d="M894.8 625.1h16" stroke="#d8b428" stroke-width="1.7" opacity="0.75"/>
<path d="M912.0 632.0V648.0" stroke="#d8b428" stroke-width="1" opacity="0.75"/><path d="M904.0 640.0h16" stroke="#d8b428" stroke-width="1.7" opacity="0.75"/>
<path d="M930.0 628.0V644.0" stroke="#d8b428" stroke-width="1" opacity="0.75"/><path d="M922.0 636.0h16" stroke="#d8b428" stroke-width="1.7" opacity="0.75"/>
<path d="M154.4 194.0V212.0M150.4 201.0h8M148.4 203.5h12" stroke="#1ca8e4" stroke-width="1.1"/>
<path d="M159.7 191.0V209.0M155.7 198.0h8M153.7 200.5h12" stroke="#1ca8e4" stroke-width="1.1"/>
<path d="M164.9 183.7V201.7M160.9 190.7h8M158.9 193.2h12" stroke="#1ca8e4" stroke-width="1.1"/>
<path d="M170.4 187.5V205.5M166.4 194.5h8M164.4 197.0h12" stroke="#1ca8e4" stroke-width="1.1"/>
<path d="M175.6 190.5V208.5M171.6 197.5h8M169.6 200.0h12" stroke="#1ca8e4" stroke-width="1.1"/>
<path d="M181.1 193.0V211.0M177.1 200.0h8M175.1 202.5h12" stroke="#1ca8e4" stroke-width="1.1"/>
<path d="M186.3 188.0V206.0M182.3 195.0h8M180.3 197.5h12" stroke="#1ca8e4" stroke-width="1.1"/>
<path d="M191.6 191.0V209.0M187.6 198.0h8M185.6 200.5h12" stroke="#1ca8e4" stroke-width="1.1"/>
<path d="M196.8 189.7V207.7M192.8 196.7h8M190.8 199.2h12" stroke="#1ca8e4" stroke-width="1.1"/>
<path d="M202.2 191.5V209.5M198.2 198.5h8M196.2 201.0h12" stroke="#1ca8e4" stroke-width="1.1"/>
<path d="M207.4 191.2V209.2M203.4 198.2h8M201.4 200.7h12" stroke="#1ca8e4" stroke-width="1.1"/>
<path d="M212.8 195.4V213.4M208.8 202.4h8M206.8 204.9h12" stroke="#1ca8e4" stroke-width="1.1"/>
<path d="M217.8 193.1V211.1M213.8 200.1h8M211.8 202.6h12" stroke="#1ca8e4" stroke-width="1.1"/>
<path d="M223.2 196.2V214.2M219.2 203.2h8M217.2 205.7h12" stroke="#1ca8e4" stroke-width="1.1"/>
<path d="M228.6 198.1V216.1M224.6 205.1h8M222.6 207.6h12" stroke="#1ca8e4" stroke-width="1.1"/>
<path d="M233.6 201.2V219.2M229.6 208.2h8M227.6 210.7h12" stroke="#1ca8e4" stroke-width="1.1"/>
<path d="M238.6 204.7V222.7M234.6 211.7h8M232.6 214.2h12" stroke="#1ca8e4" stroke-width="1.1"/>
<path d="M243.0 216.5V234.5M239.0 223.5h8M237.0 226.0h12" stroke="#1ca8e4" stroke-width="1.1"/>
<path d="M249.4 244.5V262.5M245.4 251.5h8M243.4 254.0h12" stroke="#1ca8e4" stroke-width="1.1"/>
<path d="M255.0 317.0V335.0M251.0 324.0h8M249.0 326.5h12" stroke="#1ca8e4" stroke-width="1.1"/>
<path d="M260.0 443.0V461.0M256.0 450.0h8M254.0 452.5h12" stroke="#1ca8e4" stroke-width="1.1"/>
<path d="M265.2 579.7V597.7M261.2 586.7h8M259.2 589.2h12" stroke="#1ca8e4" stroke-width="1.1"/>
<path d="M270.5 633.2V651.2M266.5 640.2h8M264.5 642.7h12" stroke="#1ca8e4" stroke-width="1.1"/>
<path d="M275.5 632.6V650.6M271.5 639.6h8M269.5 642.1h12" stroke="#1ca8e4" stroke-width="1.1"/>
<path d="M280.5 633.9V651.9M276.5 640.9h8M274.5 643.4h12" stroke="#1ca8e4" stroke-width="1.1"/>
<path d="M286.1 634.5V652.5M282.1 641.5h8M280.1 644.0h12" stroke="#1ca8e4" stroke-width="1.1"/>
<path d="M291.7 632.0V650.0M287.7 639.0h8M285.7 641.5h12" stroke="#1ca8e4" stroke-width="1.1"/>
<circle cx="1155.4" cy="237.2" r="8.9" fill="url(#gb)"/>
<circle cx="1180.5" cy="228.3" r="8.9" fill="url(#gb)"/>
<circle cx="1200.6" cy="275.8" r="8.9" fill="url(#gb)"/>
<circle cx="1221.0" cy="273.9" r="8.9" fill="url(#gb)"/>
<circle cx="1240.8" cy="334.7" r="8.9" fill="url(#gb)"/>
<circle cx="1262.0" cy="360.1" r="8.9" fill="url(#gb)"/>
<circle cx="1271.7" cy="345.3" r="8.9" fill="url(#gb)"/>
<circle cx="1291.6" cy="401.7" r="8.9" fill="url(#gb)"/>
<circle cx="1311.5" cy="411.0" r="8.9" fill="url(#gb)"/>
<circle cx="1342.0" cy="394.5" r="8.9" fill="url(#gb)"/>
<circle cx="1352.6" cy="417.7" r="8.9" fill="url(#gb)"/>
<circle cx="1382.3" cy="382.6" r="8.9" fill="url(#gb)"/>
<path d="M1155.4 228.3V219.5M1155.4 246.1V254.6M1148.6 219.5h13.6M1148.6 254.6h13.6" stroke="#5a5ad6" stroke-width="1.25" fill="none"/>
<path d="M1180.5 219.4V206.3M1180.5 237.2V250.7M1173.7 206.3h13.6M1173.7 250.7h13.6" stroke="#5a5ad6" stroke-width="1.25" fill="none"/>
<path d="M1200.6 266.9V261.1M1200.6 284.7V290.8M1193.8 261.1h13.6M1193.8 290.8h13.6" stroke="#5a5ad6" stroke-width="1.25" fill="none"/>
<path d="M1221.0 265.0V259.2M1221.0 282.8V288.9M1214.2 259.2h13.6M1214.2 288.9h13.6" stroke="#5a5ad6" stroke-width="1.25" fill="none"/>
<path d="M1240.8 325.8V320.3M1240.8 343.6V347.9M1234.0 320.3h13.6M1234.0 347.9h13.6" stroke="#5a5ad6" stroke-width="1.25" fill="none"/>
<path d="M1262.0 351.2V341.1M1262.0 369.0V379.2M1255.2 341.1h13.6M1255.2 379.2h13.6" stroke="#5a5ad6" stroke-width="1.25" fill="none"/>
<path d="M1271.7 336.4V326.3M1271.7 354.2V364.8M1264.9 326.3h13.6M1264.9 364.8h13.6" stroke="#5a5ad6" stroke-width="1.25" fill="none"/>
<path d="M1291.6 392.8V383.9M1291.6 410.6V418.6M1284.8 383.9h13.6M1284.8 418.6h13.6" stroke="#5a5ad6" stroke-width="1.25" fill="none"/>
<path d="M1311.5 402.1V393.2M1311.5 419.9V428.3M1304.7 393.2h13.6M1304.7 428.3h13.6" stroke="#5a5ad6" stroke-width="1.25" fill="none"/>
<path d="M1342.0 385.6V377.1M1342.0 403.4V412.2M1335.2 377.1h13.6M1335.2 412.2h13.6" stroke="#5a5ad6" stroke-width="1.25" fill="none"/>
<path d="M1352.6 408.8V387.7M1352.6 426.6V446.1M1345.8 387.7h13.6M1345.8 446.1h13.6" stroke="#5a5ad6" stroke-width="1.25" fill="none"/>
<path d="M1382.3 373.7V352.9M1382.3 391.5V413.1M1375.5 352.9h13.6M1375.5 413.1h13.6" stroke="#5a5ad6" stroke-width="1.25" fill="none"/>
</g>
<rect x="342.0" y="379.5" width="208.0" height="170.10000000000002" fill="#fff"/>
<g clip-path="url(#clipI)">
<circle cx="343.5" cy="472.4" r="8.3" fill="url(#gg)"/>
<circle cx="350.0" cy="486.6" r="8.3" fill="url(#gg)"/>
<circle cx="358.2" cy="509.7" r="8.3" fill="url(#gg)"/>
<circle cx="375.2" cy="513.0" r="8.3" fill="url(#gg)"/>
<circle cx="383.6" cy="505.3" r="8.3" fill="url(#gg)"/>
<circle cx="396.1" cy="512.3" r="8.3" fill="url(#gg)"/>
<circle cx="412.5" cy="521.7" r="8.3" fill="url(#gg)"/>
<circle cx="433.3" cy="508.6" r="8.3" fill="url(#gg)"/>
<circle cx="454.3" cy="518.5" r="8.3" fill="url(#gg)"/>
<circle cx="474.6" cy="495.5" r="8.3" fill="url(#gg)"/>
<circle cx="495.9" cy="499.2" r="8.3" fill="url(#gg)"/>
<circle cx="516.8" cy="525.1" r="8.3" fill="url(#gg)"/>
<circle cx="533.2" cy="517.4" r="8.3" fill="url(#gg)"/>
<circle cx="341.3" cy="382.6" r="8.3" fill="url(#gb)"/>
<circle cx="347.2" cy="410.6" r="8.3" fill="url(#gb)"/>
<circle cx="354.4" cy="430.8" r="8.3" fill="url(#gb)"/>
<circle cx="358.2" cy="456.0" r="8.3" fill="url(#gb)"/>
<circle cx="362.1" cy="473.5" r="8.3" fill="url(#gb)"/>
<circle cx="366.5" cy="486.6" r="8.3" fill="url(#gb)"/>
<circle cx="375.2" cy="476.8" r="8.3" fill="url(#gb)"/>
<circle cx="383.6" cy="464.7" r="8.3" fill="url(#gb)"/>
<circle cx="396.1" cy="491.7" r="8.3" fill="url(#gb)"/>
<circle cx="416.9" cy="489.9" r="8.3" fill="url(#gb)"/>
<circle cx="437.7" cy="518.4" r="8.3" fill="url(#gb)"/>
<circle cx="458.6" cy="511.5" r="8.3" fill="url(#gb)"/>
<circle cx="479.0" cy="521.8" r="8.3" fill="url(#gb)"/>
<circle cx="499.6" cy="520.7" r="8.3" fill="url(#gb)"/>
<circle cx="520.7" cy="502.1" r="8.3" fill="url(#gb)"/>
<circle cx="537.6" cy="528.4" r="8.3" fill="url(#gb)"/>
<path d="M343.5 464.1V460.4M343.5 480.7V484.4M336.7 460.4h13.6M336.7 484.4h13.6" stroke="#30b030" stroke-width="1.25" fill="none"/>
<path d="M350.0 478.3V459.6M350.0 494.9V500.6M343.2 459.6h13.6M343.2 500.6h13.6" stroke="#30b030" stroke-width="1.25" fill="none"/>
<path d="M351.4 502.7h13.6M351.4 516.7h13.6" stroke="#30b030" stroke-width="1.25" fill="none"/>
<path d="M368.4 506.0h13.6M368.4 520.0h13.6" stroke="#30b030" stroke-width="1.25" fill="none"/>
<path d="M383.6 497.0V496.3M383.6 513.6V514.3M376.8 496.3h13.6M376.8 514.3h13.6" stroke="#30b030" stroke-width="1.25" fill="none"/>
<path d="M389.3 505.3h13.6M389.3 519.3h13.6" stroke="#30b030" stroke-width="1.25" fill="none"/>
<path d="M405.7 514.7h13.6M405.7 528.7h13.6" stroke="#30b030" stroke-width="1.25" fill="none"/>
<path d="M426.5 501.6h13.6M426.5 515.6h13.6" stroke="#30b030" stroke-width="1.25" fill="none"/>
<path d="M447.5 511.5h13.6M447.5 525.5h13.6" stroke="#30b030" stroke-width="1.25" fill="none"/>
<path d="M467.8 488.5h13.6M467.8 502.5h13.6" stroke="#30b030" stroke-width="1.25" fill="none"/>
<path d="M489.1 492.2h13.6M489.1 506.2h13.6" stroke="#30b030" stroke-width="1.25" fill="none"/>
<path d="M510.0 518.1h13.6M510.0 532.1h13.6" stroke="#30b030" stroke-width="1.25" fill="none"/>
<path d="M526.4 510.4h13.6M526.4 524.4h13.6" stroke="#30b030" stroke-width="1.25" fill="none"/>
<path d="M341.3 374.3V368.6M341.3 390.9V396.6M334.5 368.6h13.6M334.5 396.6h13.6" stroke="#5a5ad6" stroke-width="1.25" fill="none"/>
<path d="M347.2 402.3V393.6M347.2 418.9V427.6M340.4 393.6h13.6M340.4 427.6h13.6" stroke="#5a5ad6" stroke-width="1.25" fill="none"/>
<path d="M354.4 422.5V414.3M354.4 439.1V447.3M347.6 414.3h13.6M347.6 447.3h13.6" stroke="#5a5ad6" stroke-width="1.25" fill="none"/>
<path d="M358.2 447.7V447.0M358.2 464.3V465.0M351.4 447.0h13.6M351.4 465.0h13.6" stroke="#5a5ad6" stroke-width="1.25" fill="none"/>
<path d="M355.3 465.5h13.6M355.3 481.5h13.6" stroke="#5a5ad6" stroke-width="1.25" fill="none"/>
<path d="M366.5 478.3V473.6M366.5 494.9V500.6M359.7 473.6h13.6M359.7 500.6h13.6" stroke="#5a5ad6" stroke-width="1.25" fill="none"/>
<path d="M368.4 468.8h13.6M368.4 484.8h13.6" stroke="#5a5ad6" stroke-width="1.25" fill="none"/>
<path d="M383.6 456.4V450.7M383.6 473.0V479.7M376.8 450.7h13.6M376.8 479.7h13.6" stroke="#5a5ad6" stroke-width="1.25" fill="none"/>
<path d="M389.3 484.7h13.6M389.3 498.7h13.6" stroke="#5a5ad6" stroke-width="1.25" fill="none"/>
<path d="M410.1 482.9h13.6M410.1 496.9h13.6" stroke="#5a5ad6" stroke-width="1.25" fill="none"/>
<path d="M430.9 511.4h13.6M430.9 525.4h13.6" stroke="#5a5ad6" stroke-width="1.25" fill="none"/>
<path d="M451.8 504.5h13.6M451.8 518.5h13.6" stroke="#5a5ad6" stroke-width="1.25" fill="none"/>
<path d="M472.2 514.8h13.6M472.2 528.8h13.6" stroke="#5a5ad6" stroke-width="1.25" fill="none"/>
<path d="M492.8 513.7h13.6M492.8 527.7h13.6" stroke="#5a5ad6" stroke-width="1.25" fill="none"/>
<path d="M513.9 495.1h13.6M513.9 509.1h13.6" stroke="#5a5ad6" stroke-width="1.25" fill="none"/>
<path d="M530.8 521.4h13.6M530.8 535.4h13.6" stroke="#5a5ad6" stroke-width="1.25" fill="none"/>
</g>
<line x1="128.50" y1="683.70" x2="128.50" y2="670.70" stroke="#000" stroke-width="2.7" />
<line x1="128.50" y1="18.80" x2="128.50" y2="31.80" stroke="#000" stroke-width="2.7" />
<line x1="181.19" y1="683.70" x2="181.19" y2="676.90" stroke="#000" stroke-width="2.7" />
<line x1="181.19" y1="18.80" x2="181.19" y2="25.60" stroke="#000" stroke-width="2.7" />
<line x1="233.89" y1="683.70" x2="233.89" y2="670.70" stroke="#000" stroke-width="2.7" />
<line x1="233.89" y1="18.80" x2="233.89" y2="31.80" stroke="#000" stroke-width="2.7" />
<line x1="286.58" y1="683.70" x2="286.58" y2="676.90" stroke="#000" stroke-width="2.7" />
<line x1="286.58" y1="18.80" x2="286.58" y2="25.60" stroke="#000" stroke-width="2.7" />
<line x1="339.27" y1="683.70" x2="339.27" y2="670.70" stroke="#000" stroke-width="2.7" />
<line x1="339.27" y1="18.80" x2="339.27" y2="31.80" stroke="#000" stroke-width="2.7" />
<line x1="391.97" y1="683.70" x2="391.97" y2="676.90" stroke="#000" stroke-width="2.7" />
<line x1="391.97" y1="18.80" x2="391.97" y2="25.60" stroke="#000" stroke-width="2.7" />
<line x1="444.66" y1="683.70" x2="444.66" y2="670.70" stroke="#000" stroke-width="2.7" />
<line x1="444.66" y1="18.80" x2="444.66" y2="31.80" stroke="#000" stroke-width="2.7" />
<line x1="497.36" y1="683.70" x2="497.36" y2="676.90" stroke="#000" stroke-width="2.7" />
<line x1="497.36" y1="18.80" x2="497.36" y2="25.60" stroke="#000" stroke-width="2.7" />
<line x1="550.05" y1="683.70" x2="550.05" y2="670.70" stroke="#000" stroke-width="2.7" />
<line x1="550.05" y1="18.80" x2="550.05" y2="31.80" stroke="#000" stroke-width="2.7" />
<line x1="602.74" y1="683.70" x2="602.74" y2="676.90" stroke="#000" stroke-width="2.7" />
<line x1="602.74" y1="18.80" x2="602.74" y2="25.60" stroke="#000" stroke-width="2.7" />
<line x1="655.44" y1="683.70" x2="655.44" y2="670.70" stroke="#000" stroke-width="2.7" />
<line x1="655.44" y1="18.80" x2="655.44" y2="31.80" stroke="#000" stroke-width="2.7" />
<line x1="708.13" y1="683.70" x2="708.13" y2="676.90" stroke="#000" stroke-width="2.7" />
<line x1="708.13" y1="18.80" x2="708.13" y2="25.60" stroke="#000" stroke-width="2.7" />
<line x1="760.83" y1="683.70" x2="760.83" y2="670.70" stroke="#000" stroke-width="2.7" />
<line x1="760.83" y1="18.80" x2="760.83" y2="31.80" stroke="#000" stroke-width="2.7" />
<line x1="813.52" y1="683.70" x2="813.52" y2="676.90" stroke="#000" stroke-width="2.7" />
<line x1="813.52" y1="18.80" x2="813.52" y2="25.60" stroke="#000" stroke-width="2.7" />
<line x1="866.21" y1="683.70" x2="866.21" y2="670.70" stroke="#000" stroke-width="2.7" />
<line x1="866.21" y1="18.80" x2="866.21" y2="31.80" stroke="#000" stroke-width="2.7" />
<line x1="918.91" y1="683.70" x2="918.91" y2="676.90" stroke="#000" stroke-width="2.7" />
<line x1="918.91" y1="18.80" x2="918.91" y2="25.60" stroke="#000" stroke-width="2.7" />
<line x1="971.60" y1="683.70" x2="971.60" y2="670.70" stroke="#000" stroke-width="2.7" />
<line x1="971.60" y1="18.80" x2="971.60" y2="31.80" stroke="#000" stroke-width="2.7" />
<line x1="128.50" y1="684.37" x2="135.30" y2="684.37" stroke="#000" stroke-width="2.7" />
<line x1="971.60" y1="684.37" x2="964.80" y2="684.37" stroke="#000" stroke-width="2.7" />
<line x1="128.50" y1="640.00" x2="141.50" y2="640.00" stroke="#000" stroke-width="2.7" />
<line x1="971.60" y1="640.00" x2="958.60" y2="640.00" stroke="#000" stroke-width="2.7" />
<line x1="128.50" y1="595.63" x2="135.30" y2="595.63" stroke="#000" stroke-width="2.7" />
<line x1="971.60" y1="595.63" x2="964.80" y2="595.63" stroke="#000" stroke-width="2.7" />
<line x1="128.50" y1="551.26" x2="141.50" y2="551.26" stroke="#000" stroke-width="2.7" />
<line x1="971.60" y1="551.26" x2="958.60" y2="551.26" stroke="#000" stroke-width="2.7" />
<line x1="128.50" y1="506.89" x2="135.30" y2="506.89" stroke="#000" stroke-width="2.7" />
<line x1="971.60" y1="506.89" x2="964.80" y2="506.89" stroke="#000" stroke-width="2.7" />
<line x1="128.50" y1="462.52" x2="141.50" y2="462.52" stroke="#000" stroke-width="2.7" />
<line x1="971.60" y1="462.52" x2="958.60" y2="462.52" stroke="#000" stroke-width="2.7" />
<line x1="128.50" y1="418.15" x2="135.30" y2="418.15" stroke="#000" stroke-width="2.7" />
<line x1="971.60" y1="418.15" x2="964.80" y2="418.15" stroke="#000" stroke-width="2.7" />
<line x1="128.50" y1="373.78" x2="141.50" y2="373.78" stroke="#000" stroke-width="2.7" />
<line x1="971.60" y1="373.78" x2="958.60" y2="373.78" stroke="#000" stroke-width="2.7" />
<line x1="128.50" y1="329.41" x2="135.30" y2="329.41" stroke="#000" stroke-width="2.7" />
<line x1="971.60" y1="329.41" x2="964.80" y2="329.41" stroke="#000" stroke-width="2.7" />
<line x1="128.50" y1="285.04" x2="141.50" y2="285.04" stroke="#000" stroke-width="2.7" />
<line x1="971.60" y1="285.04" x2="958.60" y2="285.04" stroke="#000" stroke-width="2.7" />
<line x1="128.50" y1="240.67" x2="135.30" y2="240.67" stroke="#000" stroke-width="2.7" />
<line x1="971.60" y1="240.67" x2="964.80" y2="240.67" stroke="#000" stroke-width="2.7" />
<line x1="128.50" y1="196.30" x2="141.50" y2="196.30" stroke="#000" stroke-width="2.7" />
<line x1="971.60" y1="196.30" x2="958.60" y2="196.30" stroke="#000" stroke-width="2.7" />
<line x1="128.50" y1="151.93" x2="135.30" y2="151.93" stroke="#000" stroke-width="2.7" />
<line x1="971.60" y1="151.93" x2="964.80" y2="151.93" stroke="#000" stroke-width="2.7" />
<line x1="128.50" y1="107.56" x2="141.50" y2="107.56" stroke="#000" stroke-width="2.7" />
<line x1="971.60" y1="107.56" x2="958.60" y2="107.56" stroke="#000" stroke-width="2.7" />
<line x1="128.50" y1="63.19" x2="135.30" y2="63.19" stroke="#000" stroke-width="2.7" />
<line x1="971.60" y1="63.19" x2="964.80" y2="63.19" stroke="#000" stroke-width="2.7" />
<line x1="128.50" y1="18.82" x2="141.50" y2="18.82" stroke="#000" stroke-width="2.7" />
<line x1="971.60" y1="18.82" x2="958.60" y2="18.82" stroke="#000" stroke-width="2.7" />
<text x="114.20" y="652.80" font-size="46.5" text-anchor="end" >0.0</text>
<text x="114.20" y="564.06" font-size="46.5" text-anchor="end" >0.2</text>
<text x="114.20" y="475.32" font-size="46.5" text-anchor="end" >0.4</text>
<text x="114.20" y="386.58" font-size="46.5" text-anchor="end" >0.6</text>
<text x="114.20" y="297.84" font-size="46.5" text-anchor="end" >0.8</text>
<text x="114.20" y="209.10" font-size="46.5" text-anchor="end" >1.0</text>
<text x="114.20" y="120.36" font-size="46.5" text-anchor="end" >1.2</text>
<text x="114.20" y="31.62" font-size="46.5" text-anchor="end" >1.4</text>
<text x="128.50" y="733.50" font-size="46.5" text-anchor="middle" >0</text>
<text x="233.89" y="733.50" font-size="46.5" text-anchor="middle" >10</text>
<text x="339.27" y="733.50" font-size="46.5" text-anchor="middle" >20</text>
<text x="444.66" y="733.50" font-size="46.5" text-anchor="middle" >30</text>
<text x="550.05" y="733.50" font-size="46.5" text-anchor="middle" >40</text>
<text x="655.44" y="733.50" font-size="46.5" text-anchor="middle" >50</text>
<text x="760.83" y="733.50" font-size="46.5" text-anchor="middle" >60</text>
<text x="866.21" y="733.50" font-size="46.5" text-anchor="middle" >70</text>
<text x="971.60" y="733.50" font-size="46.5" text-anchor="middle" >80</text>
<text x="550.00" y="792.80" font-size="46.3" text-anchor="middle" >T (K)</text>
<text transform="translate(33.5 354) rotate(-90)" font-size="47.5" text-anchor="middle">norm. intensity</text>
<line x1="1141.00" y1="683.70" x2="1141.00" y2="670.70" stroke="#000" stroke-width="2.7" />
<line x1="1141.00" y1="18.80" x2="1141.00" y2="31.80" stroke="#000" stroke-width="2.7" />
<line x1="1191.40" y1="683.70" x2="1191.40" y2="676.90" stroke="#000" stroke-width="2.7" />
<line x1="1191.40" y1="18.80" x2="1191.40" y2="25.60" stroke="#000" stroke-width="2.7" />
<line x1="1241.80" y1="683.70" x2="1241.80" y2="670.70" stroke="#000" stroke-width="2.7" />
<line x1="1241.80" y1="18.80" x2="1241.80" y2="31.80" stroke="#000" stroke-width="2.7" />
<line x1="1292.20" y1="683.70" x2="1292.20" y2="676.90" stroke="#000" stroke-width="2.7" />
<line x1="1292.20" y1="18.80" x2="1292.20" y2="25.60" stroke="#000" stroke-width="2.7" />
<line x1="1342.60" y1="683.70" x2="1342.60" y2="670.70" stroke="#000" stroke-width="2.7" />
<line x1="1342.60" y1="18.80" x2="1342.60" y2="31.80" stroke="#000" stroke-width="2.7" />
<line x1="1393.00" y1="683.70" x2="1393.00" y2="676.90" stroke="#000" stroke-width="2.7" />
<line x1="1393.00" y1="18.80" x2="1393.00" y2="25.60" stroke="#000" stroke-width="2.7" />
<line x1="1141.00" y1="684.37" x2="1147.80" y2="684.37" stroke="#000" stroke-width="2.7" />
<line x1="1393.00" y1="684.37" x2="1386.20" y2="684.37" stroke="#000" stroke-width="2.7" />
<line x1="1141.00" y1="640.00" x2="1154.00" y2="640.00" stroke="#000" stroke-width="2.7" />
<line x1="1393.00" y1="640.00" x2="1380.00" y2="640.00" stroke="#000" stroke-width="2.7" />
<line x1="1141.00" y1="595.63" x2="1147.80" y2="595.63" stroke="#000" stroke-width="2.7" />
<line x1="1393.00" y1="595.63" x2="1386.20" y2="595.63" stroke="#000" stroke-width="2.7" />
<line x1="1141.00" y1="551.26" x2="1154.00" y2="551.26" stroke="#000" stroke-width="2.7" />
<line x1="1393.00" y1="551.26" x2="1380.00" y2="551.26" stroke="#000" stroke-width="2.7" />
<line x1="1141.00" y1="506.89" x2="1147.80" y2="506.89" stroke="#000" stroke-width="2.7" />
<line x1="1393.00" y1="506.89" x2="1386.20" y2="506.89" stroke="#000" stroke-width="2.7" />
<line x1="1141.00" y1="462.52" x2="1154.00" y2="462.52" stroke="#000" stroke-width="2.7" />
<line x1="1393.00" y1="462.52" x2="1380.00" y2="462.52" stroke="#000" stroke-width="2.7" />
<line x1="1141.00" y1="418.15" x2="1147.80" y2="418.15" stroke="#000" stroke-width="2.7" />
<line x1="1393.00" y1="418.15" x2="1386.20" y2="418.15" stroke="#000" stroke-width="2.7" />
<line x1="1141.00" y1="373.78" x2="1154.00" y2="373.78" stroke="#000" stroke-width="2.7" />
<line x1="1393.00" y1="373.78" x2="1380.00" y2="373.78" stroke="#000" stroke-width="2.7" />
<line x1="1141.00" y1="329.41" x2="1147.80" y2="329.41" stroke="#000" stroke-width="2.7" />
<line x1="1393.00" y1="329.41" x2="1386.20" y2="329.41" stroke="#000" stroke-width="2.7" />
<line x1="1141.00" y1="285.04" x2="1154.00" y2="285.04" stroke="#000" stroke-width="2.7" />
<line x1="1393.00" y1="285.04" x2="1380.00" y2="285.04" stroke="#000" stroke-width="2.7" />
<line x1="1141.00" y1="240.67" x2="1147.80" y2="240.67" stroke="#000" stroke-width="2.7" />
<line x1="1393.00" y1="240.67" x2="1386.20" y2="240.67" stroke="#000" stroke-width="2.7" />
<line x1="1141.00" y1="196.30" x2="1154.00" y2="196.30" stroke="#000" stroke-width="2.7" />
<line x1="1393.00" y1="196.30" x2="1380.00" y2="196.30" stroke="#000" stroke-width="2.7" />
<line x1="1141.00" y1="151.93" x2="1147.80" y2="151.93" stroke="#000" stroke-width="2.7" />
<line x1="1393.00" y1="151.93" x2="1386.20" y2="151.93" stroke="#000" stroke-width="2.7" />
<line x1="1141.00" y1="107.56" x2="1154.00" y2="107.56" stroke="#000" stroke-width="2.7" />
<line x1="1393.00" y1="107.56" x2="1380.00" y2="107.56" stroke="#000" stroke-width="2.7" />
<line x1="1141.00" y1="63.19" x2="1147.80" y2="63.19" stroke="#000" stroke-width="2.7" />
<line x1="1393.00" y1="63.19" x2="1386.20" y2="63.19" stroke="#000" stroke-width="2.7" />
<line x1="1141.00" y1="18.82" x2="1154.00" y2="18.82" stroke="#000" stroke-width="2.7" />
<line x1="1393.00" y1="18.82" x2="1380.00" y2="18.82" stroke="#000" stroke-width="2.7" />
<text x="1126.40" y="652.80" font-size="46.5" text-anchor="end" >0</text>
<text x="1126.40" y="564.06" font-size="46.5" text-anchor="end" >60</text>
<text x="1126.40" y="475.32" font-size="46.5" text-anchor="end" >120</text>
<text x="1126.40" y="386.58" font-size="46.5" text-anchor="end" >180</text>
<text x="1126.40" y="297.84" font-size="46.5" text-anchor="end" >240</text>
<text x="1126.40" y="209.10" font-size="46.5" text-anchor="end" >300</text>
<text x="1126.40" y="120.36" font-size="46.5" text-anchor="end" >360</text>
<text x="1126.40" y="31.62" font-size="46.5" text-anchor="end" >420</text>
<text x="1141.00" y="734.00" font-size="46.5" text-anchor="middle" >0</text>
<text x="1241.80" y="734.00" font-size="46.5" text-anchor="middle" >10</text>
<text x="1342.60" y="734.00" font-size="46.5" text-anchor="middle" >20</text>
<text x="1267.00" y="792.80" font-size="46.3" text-anchor="middle" >T (K)</text>
<text transform="translate(1027.4 359) rotate(-90)" font-size="47.4" text-anchor="middle">χ" (arb. units)</text>
<line x1="276.30" y1="40.30" x2="276.30" y2="146.70" stroke="#000" stroke-width="3.2" />
<path d="M276.3 175.7Q269.7 156.6 266.6 139.7L276.3 146.7L286.1 139.7Q282.9 156.6 276.3 175.7Z" fill="#000"/>
<line x1="707.90" y1="195.00" x2="707.90" y2="501.20" stroke="#000" stroke-width="3.2" />
<path d="M707.9 530.2Q701.3 511.1 698.1 494.2L707.9 501.2L717.6 494.2Q714.5 511.1 707.9 530.2Z" fill="#000"/>
<line x1="813.50" y1="195.00" x2="813.50" y2="401.80" stroke="#000" stroke-width="3.2" />
<path d="M813.5 430.8Q806.9 411.7 803.8 394.8L813.5 401.8L823.2 394.8Q820.1 411.7 813.5 430.8Z" fill="#000"/>
<text x="282.1" y="82.6" font-size="46">T</text>
<text x="309.9" y="101.0" font-size="28.5">C</text>
<text x="713.9" y="233.8" font-size="46">T</text>
<text x="741.0" y="252.5" font-size="28.5">N</text>
<text x="819.0" y="233.8" font-size="46">T</text>
<text x="846.3" y="252.2" font-size="28.5">S</text>
<text x="149.80" y="83.50" font-size="46.5" text-anchor="start" >(a)</text>
<text x="1160.50" y="84.20" font-size="47.5" text-anchor="start" >(b)</text>
<text x="647.50" y="72.30" font-size="35" text-anchor="end" >(0.5,0.5,3):</text>
<text x="647.50" y="115.30" font-size="35" text-anchor="end" >(0.5,0.5,5):</text>
<text x="647.50" y="158.30" font-size="35" text-anchor="end" >(1,1,2):</text>
<circle cx="685.6" cy="61.3" r="9" fill="url(#gr)"/>
<circle cx="685.6" cy="104.2" r="9" fill="url(#gg)"/>
<circle cx="684.8" cy="147.2" r="8.5" fill="none" stroke="#d8b428" stroke-width="1.7"/>
<text x="724.50" y="72.30" font-size="35" text-anchor="start" >SFx</text>
<text x="724.50" y="115.30" font-size="35" text-anchor="start" >SFy,</text>
<circle cx="849.4" cy="104.2" r="9" fill="url(#gb)"/>
<text x="888.20" y="115.30" font-size="35" text-anchor="start" >SFz</text>
<text x="724.50" y="158.30" font-size="35" text-anchor="start" >NSFz,</text>
<line x1="810.50" y1="147.20" x2="890.30" y2="147.20" stroke="#1ca8e4" stroke-width="3.0" />
<path d="M850.3 135.5L860.7 153.3L839.9 153.3Z" fill="#fff" stroke="#1ca8e4" stroke-width="1.6"/>
<text x="888.70" y="158.30" font-size="35" text-anchor="start" >SFz</text>
<text x="1222.80" y="523.20" font-size="35" text-anchor="start" >(0.5,0.5,1)</text>
<text x="1222.80" y="564.70" font-size="35" text-anchor="start" >5meV</text>
<circle cx="1262.8" cy="595.2" r="9" fill="url(#gb)"/>
<text x="1300.80" y="607.00" font-size="35" text-anchor="start" >SFz</text>
<line x1="1292.40" y1="159.70" x2="1292.40" y2="312.00" stroke="#000" stroke-width="3.2" />
<path d="M1292.4 341.0Q1285.8 321.9 1282.7 305.0L1292.4 312.0L1302.2 305.0Q1299.0 321.9 1292.4 341.0Z" fill="#000"/>
<text x="1299.1" y="201.3" font-size="46">T</text>
<text x="1326.7" y="219.5" font-size="28.5">C</text>
<line x1="342.00" y1="549.60" x2="342.00" y2="536.60" stroke="#000" stroke-width="2.4" />
<line x1="342.00" y1="379.50" x2="342.00" y2="392.50" stroke="#000" stroke-width="2.4" />
<line x1="383.60" y1="549.60" x2="383.60" y2="542.60" stroke="#000" stroke-width="2.4" />
<line x1="383.60" y1="379.50" x2="383.60" y2="386.50" stroke="#000" stroke-width="2.4" />
<line x1="425.20" y1="549.60" x2="425.20" y2="536.60" stroke="#000" stroke-width="2.4" />
<line x1="425.20" y1="379.50" x2="425.20" y2="392.50" stroke="#000" stroke-width="2.4" />
<line x1="466.80" y1="549.60" x2="466.80" y2="542.60" stroke="#000" stroke-width="2.4" />
<line x1="466.80" y1="379.50" x2="466.80" y2="386.50" stroke="#000" stroke-width="2.4" />
<line x1="508.40" y1="549.60" x2="508.40" y2="536.60" stroke="#000" stroke-width="2.4" />
<line x1="508.40" y1="379.50" x2="508.40" y2="392.50" stroke="#000" stroke-width="2.4" />
<line x1="550.00" y1="549.60" x2="550.00" y2="542.60" stroke="#000" stroke-width="2.4" />
<line x1="550.00" y1="379.50" x2="550.00" y2="386.50" stroke="#000" stroke-width="2.4" />
<line x1="342.00" y1="514.60" x2="355.00" y2="514.60" stroke="#000" stroke-width="2.4" />
<line x1="550.00" y1="514.60" x2="537.00" y2="514.60" stroke="#000" stroke-width="2.4" />
<line x1="342.00" y1="469.75" x2="349.00" y2="469.75" stroke="#000" stroke-width="2.4" />
<line x1="550.00" y1="469.75" x2="543.00" y2="469.75" stroke="#000" stroke-width="2.4" />
<line x1="342.00" y1="424.90" x2="355.00" y2="424.90" stroke="#000" stroke-width="2.4" />
<line x1="550.00" y1="424.90" x2="537.00" y2="424.90" stroke="#000" stroke-width="2.4" />
<line x1="342.00" y1="380.05" x2="349.00" y2="380.05" stroke="#000" stroke-width="2.4" />
<line x1="550.00" y1="380.05" x2="543.00" y2="380.05" stroke="#000" stroke-width="2.4" />
<rect x="342.00" y="379.50" width="208.00" height="170.10" fill="none" stroke="#000" stroke-width="2.4"/>
<text x="342.00" y="587.50" font-size="45" text-anchor="middle" >55</text>
<text x="425.20" y="587.50" font-size="45" text-anchor="middle" >65</text>
<text x="508.40" y="587.50" font-size="45" text-anchor="middle" >75</text>
<text x="328.00" y="437.50" font-size="46" text-anchor="end" >0.1</text>
<text x="328.00" y="528.00" font-size="46" text-anchor="end" >0.0</text>
<text x="311.0" y="349.0" font-size="46">T</text>
<text x="338.1" y="367.9" font-size="28.5">N</text>
<text x="412.3" y="348.8" font-size="46">T</text>
<text x="439.9" y="367.7" font-size="29">S</text>
<line x1="425.30" y1="360.40" x2="425.30" y2="446.00" stroke="#000" stroke-width="2.9" />
<path d="M425.3 474.0Q418.7 454.9 415.6 438.0L425.3 446.0L435.1 438.0Q431.9 454.9 425.3 474.0Z" fill="#000"/>
<line x1="128.50" y1="640.00" x2="971.60" y2="640.00" stroke="#000" stroke-width="2.8" />
<line x1="1141.00" y1="640.00" x2="1393.00" y2="640.00" stroke="#000" stroke-width="2.8" />
<rect x="128.50" y="18.80" width="843.10" height="664.90" fill="none" stroke="#000" stroke-width="2.7"/>
<rect x="1141.00" y="18.80" width="252.00" height="664.90" fill="none" stroke="#000" stroke-width="2.7"/>
</svg>
</body></html>
